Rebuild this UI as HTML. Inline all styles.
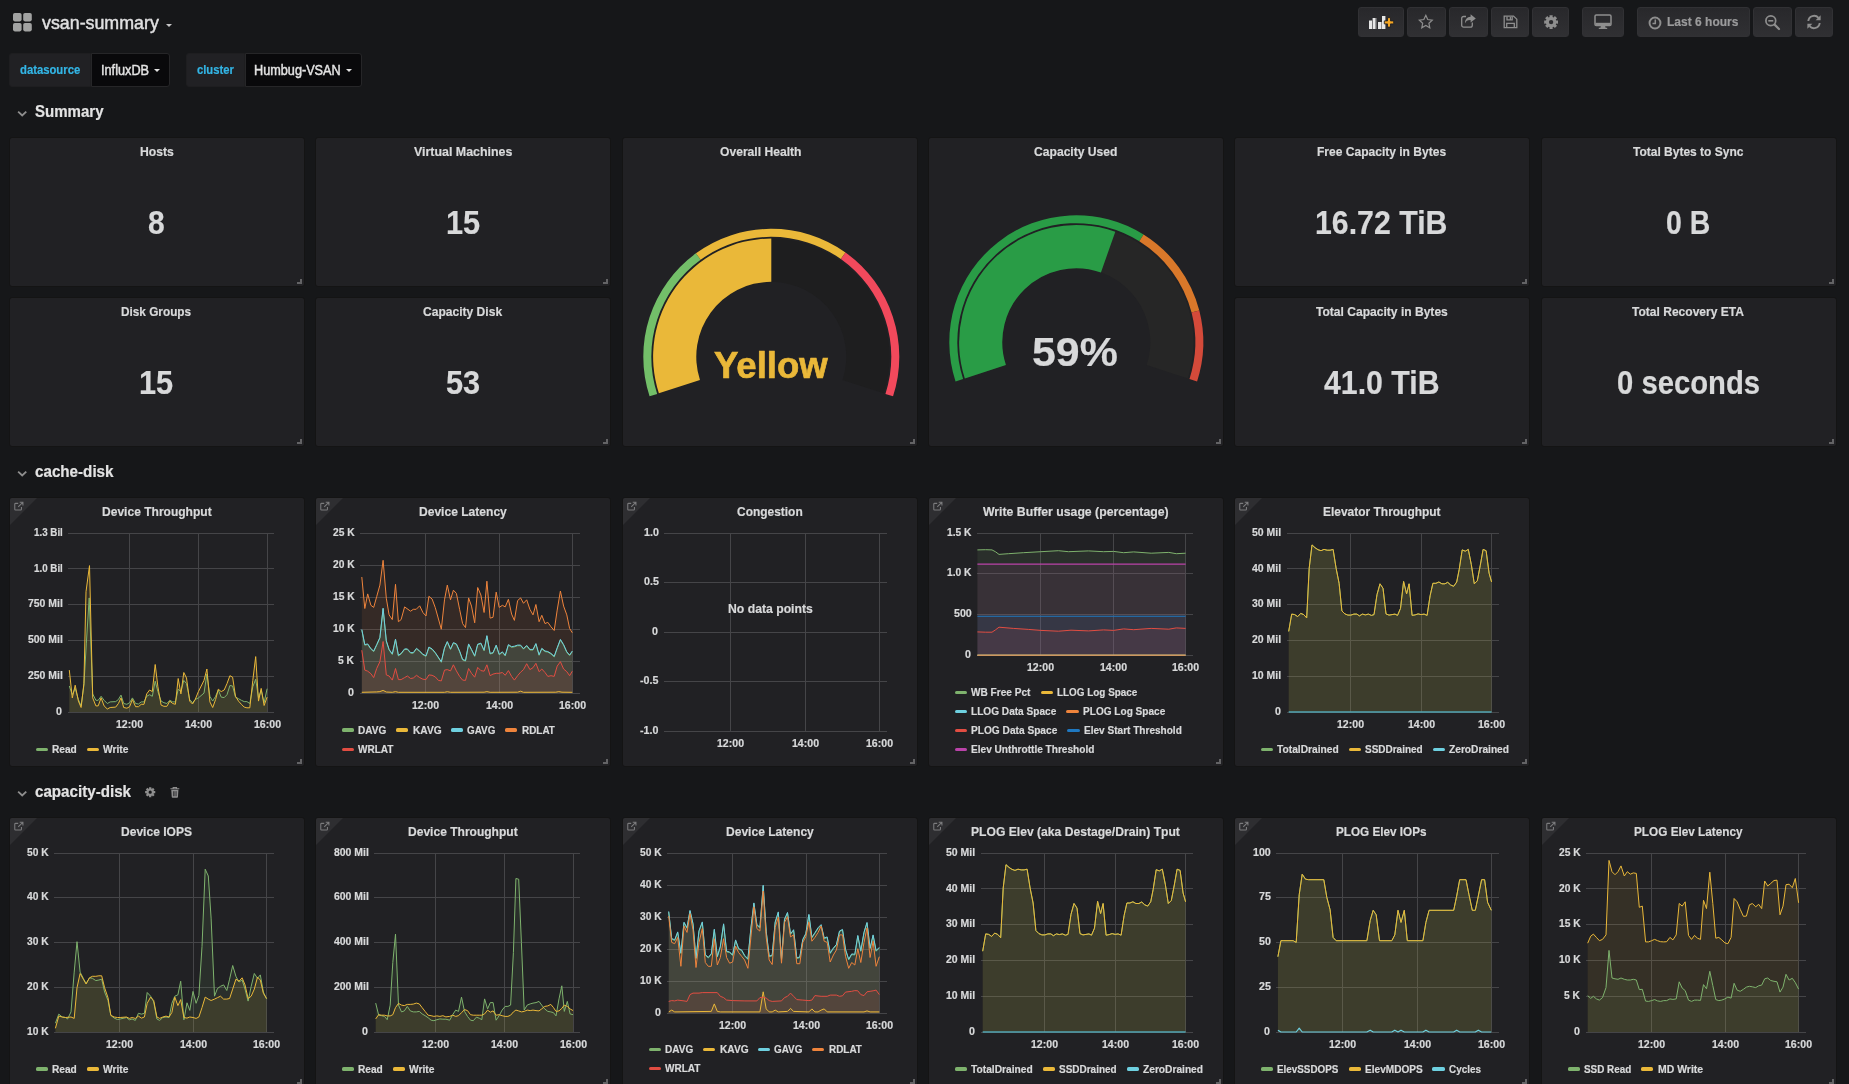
<!DOCTYPE html>
<html><head><meta charset="utf-8"><title>vsan-summary</title><style>
html,body{margin:0;padding:0;width:1849px;height:1084px;overflow:hidden}
body{width:1849px;height:1084px;overflow:hidden;background:#161719;font-family:"Liberation Sans",sans-serif;position:relative}
#w{position:absolute;left:0;top:0;width:1849px;height:1084px;overflow:hidden;will-change:transform}
.t{position:absolute;white-space:nowrap;transform-origin:0 50%;display:block;-webkit-text-stroke:0.2px}
.a{position:absolute;overflow:visible}
.p{position:absolute;box-sizing:border-box;background:#212124;border:1px solid #141414;border-radius:3px;overflow:hidden}
.rz{position:absolute;right:2px;bottom:2px;width:5px;height:5px;box-sizing:border-box;border-right:2px solid #636365;border-bottom:2px solid #636365}
.cn{position:absolute;left:0;top:0;width:0;height:0;border-top:27px solid #2e2e31;border-right:27px solid transparent}
.ci{position:absolute;left:2.600px;top:2.800px}
.nb{position:absolute;top:7px;height:30px;box-sizing:border-box;border:1px solid #313134;border-radius:3px;background:linear-gradient(#28282b,#303033)}
.caret{position:absolute;width:0;height:0;border-left:3.500px solid transparent;border-right:3.500px solid transparent;border-top:3.800px solid #e3e3e3}
.vl{position:absolute;top:53px;height:34px;box-sizing:border-box;background:#212124;border:1px solid #1e1e20;border-radius:3px 0 0 3px}
.vv{position:absolute;top:53px;height:34px;box-sizing:border-box;background:#09090b;border:1px solid #262628;border-radius:0 3px 3px 0}
.k{-webkit-text-stroke:0.45px}
.g{-webkit-text-stroke:0.7px}
.lm{position:absolute;width:12.200px;height:3.200px;border-radius:1.600px}
</style></head><body><div id="w">
<svg class="a" style="left:13px;top:13px" width="19" height="19" viewBox="0 0 19 19"><g fill="#a2a3a2"><rect x="0" y="0" width="8.6" height="8.4" rx="1.8"/><rect x="10.2" y="0" width="8.6" height="8.4" rx="1.8"/><rect x="0" y="10" width="8.6" height="8.4" rx="1.8"/><rect x="10.2" y="10" width="8.6" height="8.4" rx="1.8"/></g></svg>
<span class="t k" style="left:42.20px;top:11.11px;font-size:18px;line-height:25px;color:#e0e0e1;transform:scaleX(0.9896);">vsan-summary</span>
<i class="caret" style="left:166px;top:24px;border-top-color:#c8c8c9"></i>
<div class="nb" style="left:1358px;width:46px"></div>
<div class="nb" style="left:1407px;width:39px"></div>
<div class="nb" style="left:1449px;width:39px"></div>
<div class="nb" style="left:1491px;width:38px"></div>
<div class="nb" style="left:1532px;width:37px"></div>
<div class="nb" style="left:1582px;width:42px"></div>
<div class="nb" style="left:1637px;width:113px"></div>
<div class="nb" style="left:1753px;width:39px"></div>
<div class="nb" style="left:1795px;width:38px"></div>
<svg class="a" style="left:1368px;top:14px" width="28" height="17" viewBox="0 0 28 17"><g fill="#e6e6e6"><rect x="1" y="6.5" width="3" height="8.5"/><rect x="4.6" y="4" width="3" height="11"/><rect x="10" y="8" width="3" height="7"/><rect x="14" y="2" width="3.4" height="13"/></g><g fill="#9a9a9a"><rect x="7.6" y="4" width="0.9" height="11"/><rect x="13" y="8" width="0.9" height="7"/></g><path d="M19.5 3.700h3v3.200h3.200v3h-3.200v3.200h-3v-3.200h-3.200v-3h3.200z" fill="#f5a623" stroke="#212124" stroke-width="0.9"/></svg>
<svg class="a" style="left:1418.3px;top:14.0px" width="15.6" height="15.6" viewBox="0 0 16 16"><path d="M8 1.4l2 4.3 4.6.6-3.4 3.2.9 4.6L8 11.8l-4.1 2.3.9-4.6L1.4 6.3 6 5.7z" fill="none" stroke="#8e8e8e" stroke-width="1.25" stroke-linejoin="miter"/></svg>
<svg class="a" style="left:1460px;top:13px" width="17" height="16" viewBox="0 0 17 16"><path d="M12.3 9.6v2.6a1.9 1.9 0 0 1-1.9 1.9H3.6a1.9 1.9 0 0 1-1.9-1.9V5.4a1.9 1.9 0 0 1 1.9-1.9H6" fill="none" stroke="#8e8e8e" stroke-width="1.3"/><path d="M10.6 1.2 15.8 5.4 10.6 9.6V7.1C7.6 7 5.9 8 5 10.6 4.9 6.400 6.900 3.900 10.600 3.700z" fill="#8e8e8e"/></svg>
<svg class="a" style="left:1502.7px;top:15.4px" width="15" height="13.8" viewBox="0 0 15 15" preserveAspectRatio="none"><path d="M1.2 1.2h9.300l3.300 3.300v9.300H1.200z" fill="none" stroke="#8e8e8e" stroke-width="1.3"/><path d="M4 1.500v3.800h5.200V1.500M7.400 2.300v2.200M3.700 13.600V9.200h7.600v4.400" fill="none" stroke="#8e8e8e" stroke-width="1.3"/></svg>
<svg class="a" style="left:1542.50px;top:14.10px" width="16.20" height="16.20" viewBox="0 0 16.20 16.20"><path d="M6.61 2.99L6.50 1.18L9.70 1.18L9.59 2.99L10.67 3.43L11.86 2.08L14.12 4.34L12.77 5.53L13.21 6.61L15.02 6.50L15.02 9.70L13.21 9.59L12.77 10.67L14.12 11.86L11.86 14.12L10.67 12.77L9.59 13.21L9.70 15.02L6.50 15.02L6.61 13.21L5.53 12.77L4.34 14.12L2.08 11.86L3.43 10.67L2.99 9.59L1.18 9.70L1.18 6.50L2.99 6.61L3.43 5.53L2.08 4.34L4.34 2.08L5.53 3.43zM5.90 8.10a2.20 2.20 0 1 0 4.40 0a2.20 2.20 0 1 0 -4.40 0z" fill="#8e8e8e" fill-rule="evenodd"/></svg>
<svg class="a" style="left:1594px;top:14px" width="18" height="16" viewBox="0 0 18 16"><rect x="1" y="1" width="16" height="10.600" rx="1.3" fill="none" stroke="#8e8e8e" stroke-width="1.500"/><rect x="1.400" y="8.800" width="15.200" height="2.600" fill="#8e8e8e"/><path d="M7 11.600h4l.6 2.200h1.600v1.300H4.800v-1.300h1.600z" fill="#8e8e8e"/></svg>
<svg class="a" style="left:1648.2px;top:15.6px" width="14" height="14" viewBox="0 0 14 14"><circle cx="7" cy="7" r="5.450" fill="none" stroke="#8e8e8e" stroke-width="1.950"/><path d="M7.300 3.500v4H4.500" fill="none" stroke="#8e8e8e" stroke-width="1.500"/></svg>
<span class="t " style="left:1666.60px;top:12.95px;font-size:13px;line-height:18px;color:#9b9b9c;font-weight:bold;transform:scaleX(0.9237);">Last 6 hours</span>
<svg class="a" style="left:1764px;top:14px" width="17" height="17" viewBox="0 0 17 17"><circle cx="6.800" cy="6.800" r="4.900" fill="none" stroke="#8e8e8e" stroke-width="1.700"/><path d="M10.600 10.600 15 15" stroke="#8e8e8e" stroke-width="2.200" stroke-linecap="round"/><path d="M4.300 6.800h5" stroke="#8e8e8e" stroke-width="1.600"/></svg>
<svg class="a" style="left:1806px;top:14px" width="16" height="16" viewBox="0 0 16 16"><path d="M2.300 7A5.800 5.800 0 0 1 12.500 3.900" fill="none" stroke="#8e8e8e" stroke-width="1.900"/><path d="M14.600 1.300v5h-5z" fill="#8e8e8e"/><path d="M13.700 9A5.800 5.800 0 0 1 3.500 12.100" fill="none" stroke="#8e8e8e" stroke-width="1.900"/><path d="M1.400 14.700v-5h5z" fill="#8e8e8e"/></svg>
<div class="vl" style="left:9px;width:82px"></div><div class="vv" style="left:91px;width:79px"></div>
<div class="vl" style="left:186px;width:59px"></div><div class="vv" style="left:245px;width:117px"></div>
<span class="t " style="left:19.90px;top:61.94px;font-size:12px;line-height:17px;color:#33b5e5;font-weight:bold;transform:scaleX(0.9402);">datasource</span>
<span class="t k" style="left:101.30px;top:60.36px;font-size:14px;line-height:20px;color:#e3e3e3;transform:scaleX(0.9091);">InfluxDB</span>
<i class="caret" style="left:154px;top:69px"></i>
<span class="t " style="left:196.90px;top:61.94px;font-size:12px;line-height:17px;color:#33b5e5;font-weight:bold;transform:scaleX(0.9351);">cluster</span>
<span class="t k" style="left:254.40px;top:60.36px;font-size:14px;line-height:20px;color:#e3e3e3;transform:scaleX(0.9059);">Humbug-VSAN</span>
<i class="caret" style="left:346px;top:69px"></i>
<svg class="a" style="left:17px;top:109.6px" width="10.4" height="7.6" viewBox="0 0 11 8"><path d="M1.2 1.6 5.500 5.800 9.800 1.600" fill="none" stroke="#8e8e8e" stroke-width="1.9"/></svg>
<span class="t " style="left:34.80px;top:100.58px;font-size:16px;line-height:22px;color:#e3e3e3;font-weight:bold;transform:scaleX(0.9407);">Summary</span>
<div class="p" style="left:9.00px;top:137px;width:295.50px;height:150px">
<i class="rz"></i></div>
<span class="t " style="left:139.50px;top:142.65px;font-size:13px;line-height:18px;color:#d8d9da;font-weight:bold;transform:scaleX(0.9385);">Hosts</span>
<span class="t " style="left:148.10px;top:199.09px;font-size:33.6px;line-height:47px;color:#d8d9da;font-weight:bold;transform:scaleX(0.8937);">8</span>
<div class="p" style="left:315.40px;top:137px;width:295.50px;height:150px">
<i class="rz"></i></div>
<span class="t " style="left:413.70px;top:142.65px;font-size:13px;line-height:18px;color:#d8d9da;font-weight:bold;transform:scaleX(0.9537);">Virtual Machines</span>
<span class="t " style="left:445.75px;top:199.09px;font-size:33.6px;line-height:47px;color:#d8d9da;font-weight:bold;transform:scaleX(0.9151);">15</span>
<div class="p" style="left:9.00px;top:297px;width:295.50px;height:150px">
<i class="rz"></i></div>
<span class="t " style="left:121.40px;top:302.65px;font-size:13px;line-height:18px;color:#d8d9da;font-weight:bold;transform:scaleX(0.9069);">Disk Groups</span>
<span class="t " style="left:139.35px;top:359.09px;font-size:33.6px;line-height:47px;color:#d8d9da;font-weight:bold;transform:scaleX(0.9151);">15</span>
<div class="p" style="left:315.40px;top:297px;width:295.50px;height:150px">
<i class="rz"></i></div>
<span class="t " style="left:423.30px;top:302.65px;font-size:13px;line-height:18px;color:#d8d9da;font-weight:bold;transform:scaleX(0.9277);">Capacity Disk</span>
<span class="t " style="left:445.75px;top:359.09px;font-size:33.6px;line-height:47px;color:#d8d9da;font-weight:bold;transform:scaleX(0.9151);">53</span>
<div class="p" style="left:1234.20px;top:137px;width:295.50px;height:150px">
<i class="rz"></i></div>
<span class="t " style="left:1317.10px;top:142.65px;font-size:13px;line-height:18px;color:#d8d9da;font-weight:bold;transform:scaleX(0.9258);">Free Capacity in Bytes</span>
<span class="t " style="left:1315.40px;top:199.09px;font-size:33.6px;line-height:47px;color:#d8d9da;font-weight:bold;transform:scaleX(0.9017);">16.72 TiB</span>
<div class="p" style="left:1541.00px;top:137px;width:295.50px;height:150px">
<i class="rz"></i></div>
<span class="t " style="left:1633.25px;top:142.65px;font-size:13px;line-height:18px;color:#d8d9da;font-weight:bold;transform:scaleX(0.9225);">Total Bytes to Sync</span>
<span class="t " style="left:1666.30px;top:199.09px;font-size:33.6px;line-height:47px;color:#d8d9da;font-weight:bold;transform:scaleX(0.8472);">0 B</span>
<div class="p" style="left:1234.20px;top:297px;width:295.50px;height:150px">
<i class="rz"></i></div>
<span class="t " style="left:1315.75px;top:302.65px;font-size:13px;line-height:18px;color:#d8d9da;font-weight:bold;transform:scaleX(0.9277);">Total Capacity in Bytes</span>
<span class="t " style="left:1323.80px;top:359.09px;font-size:33.6px;line-height:47px;color:#d8d9da;font-weight:bold;transform:scaleX(0.9021);">41.0 TiB</span>
<div class="p" style="left:1541.00px;top:297px;width:295.50px;height:150px">
<i class="rz"></i></div>
<span class="t " style="left:1632.45px;top:302.65px;font-size:13px;line-height:18px;color:#d8d9da;font-weight:bold;transform:scaleX(0.9265);">Total Recovery ETA</span>
<span class="t " style="left:1616.85px;top:359.09px;font-size:33.6px;line-height:47px;color:#d8d9da;font-weight:bold;transform:scaleX(0.8713);">0 seconds</span>
<div class="p" style="left:622.00px;top:137px;width:295.50px;height:310px">
<i class="rz"></i></div>
<span class="t " style="left:719.65px;top:142.65px;font-size:13px;line-height:18px;color:#d8d9da;font-weight:bold;transform:scaleX(0.9322);">Overall Health</span>
<div class="p" style="left:928.20px;top:137px;width:295.50px;height:310px">
<i class="rz"></i></div>
<span class="t " style="left:1033.55px;top:142.65px;font-size:13px;line-height:18px;color:#d8d9da;font-weight:bold;transform:scaleX(0.9320);">Capacity Used</span>
<svg class="a" style="left:0;top:0" width="1849" height="460" viewBox="0 0 1849 460">
<path d="M658.89 393.33A118.2 118.2 0 1 1 883.71 393.33L842.63 379.98A75 75 0 1 0 699.97 379.98z" fill="#1e1e1f"/><path d="M658.89 393.33A118.2 118.2 0 0 1 771.30 238.60L771.30 281.80A75 75 0 0 0 699.97 379.98z" fill="#eab839"/><path d="M649.56 396.35A128 128 0 0 1 695.93 253.34L700.64 259.81A120 120 0 0 0 657.17 393.88z" fill="#73bf69"/><path d="M695.93 253.34A128 128 0 0 1 845.49 252.49L840.85 259.01A120 120 0 0 0 700.64 259.81z" fill="#eab839"/><path d="M845.49 252.49A128 128 0 0 1 893.04 396.35L885.43 393.88A120 120 0 0 0 840.85 259.01z" fill="#f2495c"/>
<path d="M964.84 378.42A117.2 117.2 0 1 1 1187.76 378.42L1146.68 365.07A74 74 0 1 0 1005.92 365.07z" fill="#262626"/><path d="M964.84 378.42A117.2 117.2 0 0 1 1115.31 231.68L1100.93 272.42A74 74 0 0 0 1005.92 365.07z" fill="#299c46"/><path d="M955.52 381.45A127 127 0 0 1 1143.54 234.46L1139.30 241.25A119 119 0 0 0 963.12 378.97z" fill="#299c46"/><path d="M1143.54 234.46A127 127 0 0 1 1199.31 310.62L1191.56 312.61A119 119 0 0 0 1139.30 241.25z" fill="#d9782a"/><path d="M1199.31 310.62A127 127 0 0 1 1197.08 381.45L1189.48 378.97A119 119 0 0 0 1191.56 312.61z" fill="#d44a3a"/>
</svg>
<span class="t g" style="left:714.40px;top:341.41px;font-size:36px;line-height:50px;color:#eab839;font-weight:bold;transform:scaleX(1.0139);">Yellow</span>
<span class="t " style="left:1031.90px;top:324.17px;font-size:41px;line-height:57px;color:#d8d9da;font-weight:bold;transform:scaleX(1.0456);">59%</span>
<svg class="a" style="left:17px;top:469.6px" width="10.4" height="7.6" viewBox="0 0 11 8"><path d="M1.2 1.6 5.500 5.800 9.800 1.600" fill="none" stroke="#8e8e8e" stroke-width="1.9"/></svg>
<span class="t " style="left:34.80px;top:460.58px;font-size:16px;line-height:22px;color:#e3e3e3;font-weight:bold;transform:scaleX(0.9491);">cache-disk</span>
<svg class="a" style="left:17px;top:789.6px" width="10.4" height="7.6" viewBox="0 0 11 8"><path d="M1.2 1.6 5.500 5.800 9.800 1.600" fill="none" stroke="#8e8e8e" stroke-width="1.9"/></svg>
<span class="t " style="left:34.80px;top:780.58px;font-size:16px;line-height:22px;color:#e3e3e3;font-weight:bold;transform:scaleX(0.9469);">capacity-disk</span>
<svg class="a" style="left:143.60px;top:786.00px" width="12.40" height="12.40" viewBox="0 0 12.40 12.40"><path d="M5.11 2.45L5.03 1.13L7.37 1.13L7.29 2.45L8.08 2.78L8.95 1.79L10.61 3.45L9.62 4.32L9.95 5.11L11.27 5.03L11.27 7.37L9.95 7.29L9.62 8.08L10.61 8.95L8.95 10.61L8.08 9.62L7.29 9.95L7.37 11.27L5.03 11.27L5.11 9.95L4.32 9.62L3.45 10.61L1.79 8.95L2.78 8.08L2.45 7.29L1.13 7.37L1.13 5.03L2.45 5.11L2.78 4.32L1.79 3.45L3.45 1.79L4.32 2.78zM4.59 6.20a1.61 1.61 0 1 0 3.22 0a1.61 1.61 0 1 0 -3.22 0z" fill="#8e8e8e" fill-rule="evenodd"/></svg>
<svg class="a" style="left:169.6px;top:786.9px" width="9.7" height="10.9" viewBox="0 0 10 13" preserveAspectRatio="none"><path d="M3.300 1.600V.6h3.400v1M.4 2.100h9.200" stroke="#8e8e8e" stroke-width="1.200" fill="none"/><path d="M1.300 3.400h7.400l-.5 8.600a.8.800 0 0 1-.8.700H2.600a.8.800 0 0 1-.8-.7z" fill="#8e8e8e"/><path d="M3.600 5v6M5 5v6M6.400 5v6" stroke="#161719" stroke-width=".7"/></svg>
<div class="p" style="left:9.00px;top:497px;width:295.50px;height:270px">
<div class="cn"></div><svg class="ci" viewBox="0 0 14 14" width="11.4" height="11"><path d="M10.5 7.6v2.9a1 1 0 0 1-1 1H3a1 1 0 0 1-1-1V4a1 1 0 0 1 1-1h3.4M8.3 1.6h4.1v4.1M12.2 1.8 6.4 7.6" fill="none" stroke="#7b7b7d" stroke-width="1.35"/></svg>
<i class="rz"></i></div>
<span class="t " style="left:101.60px;top:502.65px;font-size:13px;line-height:18px;color:#d8d9da;font-weight:bold;transform:scaleX(0.9261);">Device Throughput</span>
<svg class="a" style="left:0;top:0" width="1849" height="1084" viewBox="0 0 1849 1084"><path d="M68 533.5H274M68 568.5H274M68 604.5H274M68 640.5H274M68 676.5H274M68 712.5H274M129.5 533V713M198.5 533V713M267.5 533V713" stroke="#454548" stroke-width="1" fill="none" shape-rendering="crispEdges"/><polygon points="69.3,686.0 72.3,694.7 75.2,688.4 78.4,699.5 81.1,705.9 83.9,685.2 86.3,643.9 89.2,597.9 92.7,693.9 95.9,700.3 98.2,700.3 101.1,696.3 104.1,700.3 107.3,703.5 110.2,701.9 115.7,701.6 118.4,699.5 121.0,695.1 123.7,703.5 126.9,704.3 129.6,702.7 132.4,697.9 135.6,703.5 138.5,704.0 141.2,701.9 144.0,701.9 146.7,696.3 149.6,694.7 152.3,696.3 155.2,681.2 157.9,691.6 161.1,701.1 163.9,702.7 166.9,703.5 169.8,700.3 172.7,701.9 175.4,701.9 178.2,689.2 180.9,691.6 183.8,680.4 186.5,683.6 189.7,699.5 192.5,702.7 195.2,699.5 198.4,697.9 204.0,693.1 206.9,674.1 209.9,696.3 212.7,701.1 215.6,696.3 218.3,690.0 221.2,697.1 224.2,697.6 227.0,694.7 229.9,685.5 232.6,686.0 235.5,697.1 238.5,698.7 241.4,700.3 244.2,701.6 246.9,701.6 249.8,703.5 252.8,686.8 255.7,679.2 258.5,697.9 261.2,690.0 264.1,702.7 267.1,688.7 267.1,712.0 69.3,712.0" fill="#7eb26d" fill-opacity="0.1"/><polygon points="69.3,670.1 72.3,697.9 75.2,685.2 78.4,701.1 81.1,707.5 83.9,683.6 86.0,591.7 89.5,565.6 92.7,697.9 95.9,705.9 98.2,705.9 101.1,697.9 104.1,705.9 107.3,709.0 110.2,707.5 115.7,707.1 118.4,703.5 121.0,697.9 123.7,707.5 126.9,708.2 129.6,706.7 132.4,699.5 135.6,706.7 138.5,706.7 141.2,704.3 144.0,704.3 146.7,693.9 149.6,690.0 152.3,691.6 155.2,664.5 157.9,686.8 161.1,705.1 163.9,706.3 166.9,706.3 169.8,701.1 172.7,703.5 175.4,704.3 178.2,678.5 180.9,693.9 183.8,672.5 186.5,678.0 189.7,701.1 192.5,704.0 195.2,699.5 198.4,691.6 204.0,680.4 206.9,669.0 209.9,701.9 212.7,707.5 215.6,699.5 218.3,689.2 221.2,691.6 224.2,690.0 227.0,683.6 229.9,675.7 232.6,677.2 235.5,696.3 238.5,701.1 241.4,704.3 244.2,707.1 246.9,707.8 249.8,707.8 252.8,680.4 255.7,656.6 258.5,701.1 261.2,688.4 264.1,705.5 267.1,697.1 267.1,712.0 69.3,712.0" fill="#eab839" fill-opacity="0.1"/><polyline points="69.3,686.0 72.3,694.7 75.2,688.4 78.4,699.5 81.1,705.9 83.9,685.2 86.3,643.9 89.2,597.9 92.7,693.9 95.9,700.3 98.2,700.3 101.1,696.3 104.1,700.3 107.3,703.5 110.2,701.9 115.7,701.6 118.4,699.5 121.0,695.1 123.7,703.5 126.9,704.3 129.6,702.7 132.4,697.9 135.6,703.5 138.5,704.0 141.2,701.9 144.0,701.9 146.7,696.3 149.6,694.7 152.3,696.3 155.2,681.2 157.9,691.6 161.1,701.1 163.9,702.7 166.9,703.5 169.8,700.3 172.7,701.9 175.4,701.9 178.2,689.2 180.9,691.6 183.8,680.4 186.5,683.6 189.7,699.5 192.5,702.7 195.2,699.5 198.4,697.9 204.0,693.1 206.9,674.1 209.9,696.3 212.7,701.1 215.6,696.3 218.3,690.0 221.2,697.1 224.2,697.6 227.0,694.7 229.9,685.5 232.6,686.0 235.5,697.1 238.5,698.7 241.4,700.3 244.2,701.6 246.9,701.6 249.8,703.5 252.8,686.8 255.7,679.2 258.5,697.9 261.2,690.0 264.1,702.7 267.1,688.7" fill="none" stroke="#7eb26d" stroke-width="1.0" stroke-linejoin="round"/><polyline points="69.3,670.1 72.3,697.9 75.2,685.2 78.4,701.1 81.1,707.5 83.9,683.6 86.0,591.7 89.5,565.6 92.7,697.9 95.9,705.9 98.2,705.9 101.1,697.9 104.1,705.9 107.3,709.0 110.2,707.5 115.7,707.1 118.4,703.5 121.0,697.9 123.7,707.5 126.9,708.2 129.6,706.7 132.4,699.5 135.6,706.7 138.5,706.7 141.2,704.3 144.0,704.3 146.7,693.9 149.6,690.0 152.3,691.6 155.2,664.5 157.9,686.8 161.1,705.1 163.9,706.3 166.9,706.3 169.8,701.1 172.7,703.5 175.4,704.3 178.2,678.5 180.9,693.9 183.8,672.5 186.5,678.0 189.7,701.1 192.5,704.0 195.2,699.5 198.4,691.6 204.0,680.4 206.9,669.0 209.9,701.9 212.7,707.5 215.6,699.5 218.3,689.2 221.2,691.6 224.2,690.0 227.0,683.6 229.9,675.7 232.6,677.2 235.5,696.3 238.5,701.1 241.4,704.3 244.2,707.1 246.9,707.8 249.8,707.8 252.8,680.4 255.7,656.6 258.5,701.1 261.2,688.4 264.1,705.5 267.1,697.1" fill="none" stroke="#eab839" stroke-width="1.0" stroke-linejoin="round"/></svg>
<span class="t " style="left:33.56px;top:524.73px;font-size:11px;line-height:15px;color:#d8d9da;font-weight:bold;transform:scaleX(0.8900);">1.3 Bil</span>
<span class="t " style="left:33.56px;top:560.53px;font-size:11px;line-height:15px;color:#d8d9da;font-weight:bold;transform:scaleX(0.8900);">1.0 Bil</span>
<span class="t " style="left:27.55px;top:596.33px;font-size:11px;line-height:15px;color:#d8d9da;font-weight:bold;transform:scaleX(0.9500);">750 Mil</span>
<span class="t " style="left:27.55px;top:632.13px;font-size:11px;line-height:15px;color:#d8d9da;font-weight:bold;transform:scaleX(0.9500);">500 Mil</span>
<span class="t " style="left:27.55px;top:667.93px;font-size:11px;line-height:15px;color:#d8d9da;font-weight:bold;transform:scaleX(0.9500);">250 Mil</span>
<span class="t " style="left:56.47px;top:703.73px;font-size:11px;line-height:15px;color:#d8d9da;font-weight:bold;transform:scaleX(0.9700);">0</span>
<span class="t " style="left:116.10px;top:716.63px;font-size:11px;line-height:15px;color:#d8d9da;font-weight:bold;transform:scaleX(0.9600);">12:00</span>
<span class="t " style="left:185.10px;top:716.63px;font-size:11px;line-height:15px;color:#d8d9da;font-weight:bold;transform:scaleX(0.9600);">14:00</span>
<span class="t " style="left:254.10px;top:716.63px;font-size:11px;line-height:15px;color:#d8d9da;font-weight:bold;transform:scaleX(0.9600);">16:00</span>
<i class="lm" style="left:35.5px;top:747.5px;background:#7eb26d"></i>
<span class="t " style="left:52.00px;top:741.63px;font-size:11px;line-height:15px;color:#d8d9da;font-weight:bold;transform:scaleX(0.9220);">Read</span>
<i class="lm" style="left:86.5px;top:747.5px;background:#eab839"></i>
<span class="t " style="left:103.00px;top:741.63px;font-size:11px;line-height:15px;color:#d8d9da;font-weight:bold;transform:scaleX(0.9340);">Write</span>
<div class="p" style="left:315.40px;top:497px;width:295.50px;height:270px">
<div class="cn"></div><svg class="ci" viewBox="0 0 14 14" width="11.4" height="11"><path d="M10.5 7.6v2.9a1 1 0 0 1-1 1H3a1 1 0 0 1-1-1V4a1 1 0 0 1 1-1h3.4M8.3 1.6h4.1v4.1M12.2 1.8 6.4 7.6" fill="none" stroke="#7b7b7d" stroke-width="1.35"/></svg>
<i class="rz"></i></div>
<span class="t " style="left:418.95px;top:502.65px;font-size:13px;line-height:18px;color:#d8d9da;font-weight:bold;transform:scaleX(0.9275);">Device Latency</span>
<svg class="a" style="left:0;top:0" width="1849" height="1084" viewBox="0 0 1849 1084"><path d="M360 533.5H580M360 565.5H580M360 597.5H580M360 629.5H580M360 661.5H580M360 693.5H580M425.5 533V694M499.5 533V694M572.5 533V694" stroke="#454548" stroke-width="1" fill="none" shape-rendering="crispEdges"/><polygon points="361.8,630.1 364.8,645.2 367.7,644.5 370.9,649.2 373.7,651.6 376.7,645.2 379.9,638.1 383.1,608.8 386.3,641.3 389.1,650.0 392.3,654.5 395.5,639.7 398.4,655.9 401.1,654.0 404.6,649.5 407.4,649.5 410.6,653.2 413.3,653.2 416.5,648.9 419.7,651.6 422.9,654.8 426.0,656.4 428.9,647.6 432.1,649.5 435.3,653.2 441.3,662.3 444.5,648.4 447.3,642.1 450.5,649.5 453.4,643.2 456.4,644.5 459.6,651.6 462.6,660.0 465.5,661.1 468.6,644.5 471.5,650.0 474.7,656.4 477.7,644.8 480.9,643.7 484.1,650.8 486.9,636.2 490.1,654.0 493.0,653.2 496.2,645.7 499.2,654.8 502.4,652.4 505.2,655.9 508.4,645.2 511.6,647.3 514.4,646.8 517.6,645.7 520.6,645.7 523.5,649.2 526.7,646.0 529.9,650.0 533.0,650.0 535.9,644.1 539.1,655.3 541.8,648.9 545.0,651.6 547.8,652.1 551.0,654.0 554.2,656.9 557.2,648.4 560.4,640.0 563.6,645.2 566.8,652.4 569.6,655.6 572.3,651.6 572.3,693.0 361.8,693.0" fill="#7eb26d" fill-opacity="0.1"/><polygon points="361.8,692.3 376.7,691.9 379.9,691.6 383.1,690.4 386.3,692.0 392.3,692.3 395.5,691.6 398.4,692.3 444.5,692.3 447.3,691.7 450.5,692.3 484.1,692.2 486.9,691.6 490.1,692.3 517.6,692.2 520.6,691.2 523.5,692.3 555.8,692.2 558.8,691.6 562.0,692.2 572.3,692.3 572.3,693.0 361.8,693.0" fill="#eab839" fill-opacity="0.1"/><polygon points="361.8,629.5 364.8,644.6 367.7,643.9 370.9,648.6 373.7,651.0 376.7,644.6 379.9,637.5 383.1,608.2 386.3,640.7 389.1,649.4 392.3,653.9 395.5,639.1 398.4,655.3 401.1,653.4 404.6,648.9 407.4,648.9 410.6,652.6 413.3,652.6 416.5,648.3 419.7,651.0 422.9,654.2 426.0,655.8 428.9,647.0 432.1,648.9 435.3,652.6 441.3,661.7 444.5,647.8 447.3,641.5 450.5,648.9 453.4,642.6 456.4,643.9 459.6,651.0 462.6,659.4 465.5,660.5 468.6,643.9 471.5,649.4 474.7,655.8 477.7,644.2 480.9,643.1 484.1,650.2 486.9,635.6 490.1,653.4 493.0,652.6 496.2,645.1 499.2,654.2 502.4,651.8 505.2,655.3 508.4,644.6 511.6,646.7 514.4,646.2 517.6,645.1 520.6,645.1 523.5,648.6 526.7,645.4 529.9,649.4 533.0,649.4 535.9,643.5 539.1,654.7 541.8,648.3 545.0,651.0 547.8,651.5 551.0,653.4 554.2,656.3 557.2,647.8 560.4,639.4 563.6,644.6 566.8,651.8 569.6,655.0 572.3,651.0 572.3,693.0 361.8,693.0" fill="#6ed0e0" fill-opacity="0.1"/><polygon points="361.8,577.0 364.8,608.5 367.7,593.9 370.9,605.3 373.7,607.4 376.7,596.6 379.9,585.1 383.1,560.3 386.3,598.2 389.1,614.9 392.3,619.6 395.5,584.3 398.4,621.7 401.1,619.6 404.6,606.9 410.6,611.2 413.3,609.3 416.2,609.3 419.7,605.8 422.9,612.5 426.0,616.0 428.9,596.3 432.1,599.0 435.3,607.7 441.3,629.2 444.5,599.8 447.3,585.1 450.5,599.8 453.4,590.2 456.4,593.4 459.6,609.3 462.6,623.6 465.5,627.6 468.6,597.9 471.5,606.1 474.7,622.8 477.7,587.5 480.9,595.0 484.1,612.5 486.9,581.2 490.1,618.1 493.0,617.3 496.2,592.1 499.2,607.4 502.4,605.3 505.2,606.9 508.4,599.3 511.6,614.1 514.4,620.4 517.6,600.6 520.6,597.9 523.5,603.3 526.7,599.8 529.9,609.3 533.0,614.9 535.9,604.5 539.1,621.7 541.8,615.3 545.0,623.6 547.8,622.3 551.0,626.8 554.2,630.5 557.2,610.1 560.4,591.0 563.6,606.1 566.8,614.9 569.6,628.4 572.3,632.8 572.3,693.0 361.8,693.0" fill="#ef843c" fill-opacity="0.1"/><polygon points="361.8,650.2 364.8,670.1 367.7,671.2 370.9,673.7 373.7,677.6 376.7,668.5 379.9,661.7 383.1,641.5 386.3,674.9 389.1,676.0 392.3,680.1 395.5,668.5 398.4,679.6 401.1,679.6 404.6,677.6 407.4,676.0 410.6,678.5 413.3,678.0 416.5,675.3 419.7,677.6 422.9,679.2 426.0,679.6 428.9,674.9 432.1,675.3 435.3,676.9 438.4,680.4 441.3,680.9 444.5,670.1 447.3,669.6 450.5,670.9 453.4,664.8 456.4,670.9 459.6,676.4 462.6,680.1 465.5,680.4 468.6,668.5 471.5,673.3 474.7,677.2 477.7,667.4 480.9,670.6 484.1,671.2 486.9,664.8 490.1,675.7 493.0,674.1 496.2,673.3 499.2,673.3 502.4,672.5 505.2,675.3 508.4,670.6 511.6,676.4 514.4,680.1 517.6,675.7 520.6,672.2 523.5,669.6 526.7,663.7 529.9,669.6 533.0,667.7 535.9,663.3 539.1,671.7 541.8,669.0 545.0,672.5 547.8,676.4 551.0,675.7 554.2,676.4 557.2,666.1 560.4,661.7 563.6,669.0 566.8,671.7 569.6,675.7 572.3,671.2 572.3,693.0 361.8,693.0" fill="#e24d42" fill-opacity="0.1"/><polyline points="361.8,630.1 364.8,645.2 367.7,644.5 370.9,649.2 373.7,651.6 376.7,645.2 379.9,638.1 383.1,608.8 386.3,641.3 389.1,650.0 392.3,654.5 395.5,639.7 398.4,655.9 401.1,654.0 404.6,649.5 407.4,649.5 410.6,653.2 413.3,653.2 416.5,648.9 419.7,651.6 422.9,654.8 426.0,656.4 428.9,647.6 432.1,649.5 435.3,653.2 441.3,662.3 444.5,648.4 447.3,642.1 450.5,649.5 453.4,643.2 456.4,644.5 459.6,651.6 462.6,660.0 465.5,661.1 468.6,644.5 471.5,650.0 474.7,656.4 477.7,644.8 480.9,643.7 484.1,650.8 486.9,636.2 490.1,654.0 493.0,653.2 496.2,645.7 499.2,654.8 502.4,652.4 505.2,655.9 508.4,645.2 511.6,647.3 514.4,646.8 517.6,645.7 520.6,645.7 523.5,649.2 526.7,646.0 529.9,650.0 533.0,650.0 535.9,644.1 539.1,655.3 541.8,648.9 545.0,651.6 547.8,652.1 551.0,654.0 554.2,656.9 557.2,648.4 560.4,640.0 563.6,645.2 566.8,652.4 569.6,655.6 572.3,651.6" fill="none" stroke="#7eb26d" stroke-width="1.0" stroke-linejoin="round"/><polyline points="361.8,692.3 376.7,691.9 379.9,691.6 383.1,690.4 386.3,692.0 392.3,692.3 395.5,691.6 398.4,692.3 444.5,692.3 447.3,691.7 450.5,692.3 484.1,692.2 486.9,691.6 490.1,692.3 517.6,692.2 520.6,691.2 523.5,692.3 555.8,692.2 558.8,691.6 562.0,692.2 572.3,692.3" fill="none" stroke="#eab839" stroke-width="1.0" stroke-linejoin="round"/><polyline points="361.8,629.5 364.8,644.6 367.7,643.9 370.9,648.6 373.7,651.0 376.7,644.6 379.9,637.5 383.1,608.2 386.3,640.7 389.1,649.4 392.3,653.9 395.5,639.1 398.4,655.3 401.1,653.4 404.6,648.9 407.4,648.9 410.6,652.6 413.3,652.6 416.5,648.3 419.7,651.0 422.9,654.2 426.0,655.8 428.9,647.0 432.1,648.9 435.3,652.6 441.3,661.7 444.5,647.8 447.3,641.5 450.5,648.9 453.4,642.6 456.4,643.9 459.6,651.0 462.6,659.4 465.5,660.5 468.6,643.9 471.5,649.4 474.7,655.8 477.7,644.2 480.9,643.1 484.1,650.2 486.9,635.6 490.1,653.4 493.0,652.6 496.2,645.1 499.2,654.2 502.4,651.8 505.2,655.3 508.4,644.6 511.6,646.7 514.4,646.2 517.6,645.1 520.6,645.1 523.5,648.6 526.7,645.4 529.9,649.4 533.0,649.4 535.9,643.5 539.1,654.7 541.8,648.3 545.0,651.0 547.8,651.5 551.0,653.4 554.2,656.3 557.2,647.8 560.4,639.4 563.6,644.6 566.8,651.8 569.6,655.0 572.3,651.0" fill="none" stroke="#6ed0e0" stroke-width="1.0" stroke-linejoin="round"/><polyline points="361.8,577.0 364.8,608.5 367.7,593.9 370.9,605.3 373.7,607.4 376.7,596.6 379.9,585.1 383.1,560.3 386.3,598.2 389.1,614.9 392.3,619.6 395.5,584.3 398.4,621.7 401.1,619.6 404.6,606.9 410.6,611.2 413.3,609.3 416.2,609.3 419.7,605.8 422.9,612.5 426.0,616.0 428.9,596.3 432.1,599.0 435.3,607.7 441.3,629.2 444.5,599.8 447.3,585.1 450.5,599.8 453.4,590.2 456.4,593.4 459.6,609.3 462.6,623.6 465.5,627.6 468.6,597.9 471.5,606.1 474.7,622.8 477.7,587.5 480.9,595.0 484.1,612.5 486.9,581.2 490.1,618.1 493.0,617.3 496.2,592.1 499.2,607.4 502.4,605.3 505.2,606.9 508.4,599.3 511.6,614.1 514.4,620.4 517.6,600.6 520.6,597.9 523.5,603.3 526.7,599.8 529.9,609.3 533.0,614.9 535.9,604.5 539.1,621.7 541.8,615.3 545.0,623.6 547.8,622.3 551.0,626.8 554.2,630.5 557.2,610.1 560.4,591.0 563.6,606.1 566.8,614.9 569.6,628.4 572.3,632.8" fill="none" stroke="#ef843c" stroke-width="1.0" stroke-linejoin="round"/><polyline points="361.8,650.2 364.8,670.1 367.7,671.2 370.9,673.7 373.7,677.6 376.7,668.5 379.9,661.7 383.1,641.5 386.3,674.9 389.1,676.0 392.3,680.1 395.5,668.5 398.4,679.6 401.1,679.6 404.6,677.6 407.4,676.0 410.6,678.5 413.3,678.0 416.5,675.3 419.7,677.6 422.9,679.2 426.0,679.6 428.9,674.9 432.1,675.3 435.3,676.9 438.4,680.4 441.3,680.9 444.5,670.1 447.3,669.6 450.5,670.9 453.4,664.8 456.4,670.9 459.6,676.4 462.6,680.1 465.5,680.4 468.6,668.5 471.5,673.3 474.7,677.2 477.7,667.4 480.9,670.6 484.1,671.2 486.9,664.8 490.1,675.7 493.0,674.1 496.2,673.3 499.2,673.3 502.4,672.5 505.2,675.3 508.4,670.6 511.6,676.4 514.4,680.1 517.6,675.7 520.6,672.2 523.5,669.6 526.7,663.7 529.9,669.6 533.0,667.7 535.9,663.3 539.1,671.7 541.8,669.0 545.0,672.5 547.8,676.4 551.0,675.7 554.2,676.4 557.2,666.1 560.4,661.7 563.6,669.0 566.8,671.7 569.6,675.7 572.3,671.2" fill="none" stroke="#e24d42" stroke-width="1.0" stroke-linejoin="round"/></svg>
<span class="t " style="left:332.79px;top:524.73px;font-size:11px;line-height:15px;color:#d8d9da;font-weight:bold;transform:scaleX(0.9300);">25 K</span>
<span class="t " style="left:332.79px;top:556.73px;font-size:11px;line-height:15px;color:#d8d9da;font-weight:bold;transform:scaleX(0.9300);">20 K</span>
<span class="t " style="left:332.79px;top:588.73px;font-size:11px;line-height:15px;color:#d8d9da;font-weight:bold;transform:scaleX(0.9300);">15 K</span>
<span class="t " style="left:332.79px;top:620.73px;font-size:11px;line-height:15px;color:#d8d9da;font-weight:bold;transform:scaleX(0.9300);">10 K</span>
<span class="t " style="left:338.48px;top:652.73px;font-size:11px;line-height:15px;color:#d8d9da;font-weight:bold;transform:scaleX(0.9300);">5 K</span>
<span class="t " style="left:348.47px;top:684.73px;font-size:11px;line-height:15px;color:#d8d9da;font-weight:bold;transform:scaleX(0.9700);">0</span>
<span class="t " style="left:411.90px;top:697.63px;font-size:11px;line-height:15px;color:#d8d9da;font-weight:bold;transform:scaleX(0.9600);">12:00</span>
<span class="t " style="left:486.10px;top:697.63px;font-size:11px;line-height:15px;color:#d8d9da;font-weight:bold;transform:scaleX(0.9600);">14:00</span>
<span class="t " style="left:558.80px;top:697.63px;font-size:11px;line-height:15px;color:#d8d9da;font-weight:bold;transform:scaleX(0.9600);">16:00</span>
<i class="lm" style="left:341.5px;top:728.4px;background:#7eb26d"></i>
<span class="t " style="left:358.00px;top:722.53px;font-size:11px;line-height:15px;color:#d8d9da;font-weight:bold;transform:scaleX(0.9139);">DAVG</span>
<i class="lm" style="left:396.0px;top:728.4px;background:#eab839"></i>
<span class="t " style="left:412.50px;top:722.53px;font-size:11px;line-height:15px;color:#d8d9da;font-weight:bold;transform:scaleX(0.9236);">KAVG</span>
<i class="lm" style="left:450.8px;top:728.4px;background:#6ed0e0"></i>
<span class="t " style="left:467.30px;top:722.53px;font-size:11px;line-height:15px;color:#d8d9da;font-weight:bold;transform:scaleX(0.8962);">GAVG</span>
<i class="lm" style="left:505.3px;top:728.4px;background:#ef843c"></i>
<span class="t " style="left:521.80px;top:722.53px;font-size:11px;line-height:15px;color:#d8d9da;font-weight:bold;transform:scaleX(0.9025);">RDLAT</span>
<i class="lm" style="left:341.5px;top:747.5px;background:#e24d42"></i>
<span class="t " style="left:358.00px;top:741.63px;font-size:11px;line-height:15px;color:#d8d9da;font-weight:bold;transform:scaleX(0.9128);">WRLAT</span>
<div class="p" style="left:622.00px;top:497px;width:295.50px;height:270px">
<div class="cn"></div><svg class="ci" viewBox="0 0 14 14" width="11.4" height="11"><path d="M10.5 7.6v2.9a1 1 0 0 1-1 1H3a1 1 0 0 1-1-1V4a1 1 0 0 1 1-1h3.4M8.3 1.6h4.1v4.1M12.2 1.8 6.4 7.6" fill="none" stroke="#7b7b7d" stroke-width="1.35"/></svg>
<i class="rz"></i></div>
<span class="t " style="left:736.60px;top:502.65px;font-size:13px;line-height:18px;color:#d8d9da;font-weight:bold;transform:scaleX(0.9189);">Congestion</span>
<svg class="a" style="left:0;top:0" width="1849" height="1084" viewBox="0 0 1849 1084"><path d="M664 533.5H887M664 582.5H887M664 632.5H887M664 681.5H887M664 731.5H887M730.5 533V732M805.5 533V732M879.5 533V732" stroke="#454548" stroke-width="1" fill="none" shape-rendering="crispEdges"/></svg>
<span class="t " style="left:643.57px;top:524.73px;font-size:11px;line-height:15px;color:#d8d9da;font-weight:bold;transform:scaleX(0.9700);">1.0</span>
<span class="t " style="left:643.57px;top:574.23px;font-size:11px;line-height:15px;color:#d8d9da;font-weight:bold;transform:scaleX(0.9700);">0.5</span>
<span class="t " style="left:652.47px;top:623.73px;font-size:11px;line-height:15px;color:#d8d9da;font-weight:bold;transform:scaleX(0.9700);">0</span>
<span class="t " style="left:640.01px;top:673.23px;font-size:11px;line-height:15px;color:#d8d9da;font-weight:bold;transform:scaleX(0.9700);">-0.5</span>
<span class="t " style="left:640.01px;top:722.73px;font-size:11px;line-height:15px;color:#d8d9da;font-weight:bold;transform:scaleX(0.9700);">-1.0</span>
<span class="t " style="left:716.90px;top:735.63px;font-size:11px;line-height:15px;color:#d8d9da;font-weight:bold;transform:scaleX(0.9600);">12:00</span>
<span class="t " style="left:791.80px;top:735.63px;font-size:11px;line-height:15px;color:#d8d9da;font-weight:bold;transform:scaleX(0.9600);">14:00</span>
<span class="t " style="left:866.10px;top:735.63px;font-size:11px;line-height:15px;color:#d8d9da;font-weight:bold;transform:scaleX(0.9600);">16:00</span>
<span class="t " style="left:727.60px;top:599.06px;font-size:13.5px;line-height:19px;color:#d8d9da;font-weight:bold;transform:scaleX(0.9045);">No data points</span>
<div class="p" style="left:928.20px;top:497px;width:295.50px;height:270px">
<div class="cn"></div><svg class="ci" viewBox="0 0 14 14" width="11.4" height="11"><path d="M10.5 7.6v2.9a1 1 0 0 1-1 1H3a1 1 0 0 1-1-1V4a1 1 0 0 1 1-1h3.4M8.3 1.6h4.1v4.1M12.2 1.8 6.4 7.6" fill="none" stroke="#7b7b7d" stroke-width="1.35"/></svg>
<i class="rz"></i></div>
<span class="t " style="left:982.85px;top:502.65px;font-size:13px;line-height:18px;color:#d8d9da;font-weight:bold;transform:scaleX(0.9423);">Write Buffer usage (percentage)</span>
<svg class="a" style="left:0;top:0" width="1849" height="1084" viewBox="0 0 1849 1084"><path d="M977 533.5H1193M977 573.5H1193M977 614.5H1193M977 655.5H1193M1040.5 533V656M1113.5 533V656M1185.5 533V656" stroke="#454548" stroke-width="1" fill="none" shape-rendering="crispEdges"/><polygon points="977.4,549.9 985.7,549.7 992.0,549.9 995.7,551.9 999.0,554.4 1008.3,553.7 1023.3,552.7 1040.9,551.7 1058.4,550.7 1068.5,551.7 1088.5,550.9 1103.6,551.7 1113.6,551.4 1123.6,552.7 1133.7,551.9 1151.2,553.2 1168.8,552.4 1176.3,553.7 1185.6,553.2 1185.6,655.0 977.4,655.0" fill="#7eb26d" fill-opacity="0.1"/><polygon points="977.4,631.9 985.7,632.2 992.0,632.2 995.7,629.7 999.0,627.2 1013.3,628.4 1028.3,629.4 1040.9,630.4 1058.4,631.2 1071.0,630.2 1088.5,630.9 1103.6,629.9 1113.6,630.4 1123.6,628.9 1133.7,629.7 1151.2,628.4 1168.8,629.2 1176.3,627.9 1185.6,628.4 1185.6,655.0 977.4,655.0" fill="#e24d42" fill-opacity="0.1"/><polygon points="977.4,616.3 1185.6,616.3 1185.6,655.0 977.4,655.0" fill="#1f78c1" fill-opacity="0.1"/><polygon points="977.4,564.0 1185.6,564.0 1185.6,655.0 977.4,655.0" fill="#ba43a9" fill-opacity="0.1"/><polyline points="977.4,549.9 985.7,549.7 992.0,549.9 995.7,551.9 999.0,554.4 1008.3,553.7 1023.3,552.7 1040.9,551.7 1058.4,550.7 1068.5,551.7 1088.5,550.9 1103.6,551.7 1113.6,551.4 1123.6,552.7 1133.7,551.9 1151.2,553.2 1168.8,552.4 1176.3,553.7 1185.6,553.2" fill="none" stroke="#7eb26d" stroke-width="1.0" stroke-linejoin="round"/><polyline points="977.4,655.2 1185.6,655.2" fill="none" stroke="#eab839" stroke-width="1.0" stroke-linejoin="round"/><polyline points="977.4,655.2 1185.6,655.2" fill="none" stroke="#6ed0e0" stroke-width="1.0" stroke-linejoin="round"/><polyline points="977.4,655.2 1185.6,655.2" fill="none" stroke="#ef843c" stroke-width="1.0" stroke-linejoin="round"/><polyline points="977.4,631.9 985.7,632.2 992.0,632.2 995.7,629.7 999.0,627.2 1013.3,628.4 1028.3,629.4 1040.9,630.4 1058.4,631.2 1071.0,630.2 1088.5,630.9 1103.6,629.9 1113.6,630.4 1123.6,628.9 1133.7,629.7 1151.2,628.4 1168.8,629.2 1176.3,627.9 1185.6,628.4" fill="none" stroke="#e24d42" stroke-width="1.0" stroke-linejoin="round"/><polyline points="977.4,616.3 1185.6,616.3" fill="none" stroke="#1f78c1" stroke-width="1.1" stroke-linejoin="round"/><polyline points="977.4,564.0 1185.6,564.0" fill="none" stroke="#ba43a9" stroke-width="1.25" stroke-linejoin="round"/></svg>
<span class="t " style="left:946.95px;top:524.73px;font-size:11px;line-height:15px;color:#d8d9da;font-weight:bold;transform:scaleX(0.9300);">1.5 K</span>
<span class="t " style="left:946.95px;top:565.39px;font-size:11px;line-height:15px;color:#d8d9da;font-weight:bold;transform:scaleX(0.9300);">1.0 K</span>
<span class="t " style="left:953.60px;top:606.06px;font-size:11px;line-height:15px;color:#d8d9da;font-weight:bold;transform:scaleX(0.9700);">500</span>
<span class="t " style="left:965.47px;top:646.73px;font-size:11px;line-height:15px;color:#d8d9da;font-weight:bold;transform:scaleX(0.9700);">0</span>
<span class="t " style="left:1026.90px;top:659.63px;font-size:11px;line-height:15px;color:#d8d9da;font-weight:bold;transform:scaleX(0.9600);">12:00</span>
<span class="t " style="left:1100.10px;top:659.63px;font-size:11px;line-height:15px;color:#d8d9da;font-weight:bold;transform:scaleX(0.9600);">14:00</span>
<span class="t " style="left:1172.10px;top:659.63px;font-size:11px;line-height:15px;color:#d8d9da;font-weight:bold;transform:scaleX(0.9600);">16:00</span>
<i class="lm" style="left:954.9px;top:691.1px;background:#7eb26d"></i>
<span class="t " style="left:971.40px;top:685.23px;font-size:11px;line-height:15px;color:#d8d9da;font-weight:bold;transform:scaleX(0.9168);">WB Free Pct</span>
<i class="lm" style="left:1040.5px;top:691.1px;background:#eab839"></i>
<span class="t " style="left:1057.00px;top:685.23px;font-size:11px;line-height:15px;color:#d8d9da;font-weight:bold;transform:scaleX(0.8999);">LLOG Log Space</span>
<i class="lm" style="left:954.9px;top:709.9px;background:#6ed0e0"></i>
<span class="t " style="left:971.40px;top:704.03px;font-size:11px;line-height:15px;color:#d8d9da;font-weight:bold;transform:scaleX(0.9180);">LLOG Data Space</span>
<i class="lm" style="left:1066.4px;top:709.9px;background:#ef843c"></i>
<span class="t " style="left:1082.90px;top:704.03px;font-size:11px;line-height:15px;color:#d8d9da;font-weight:bold;transform:scaleX(0.9160);">PLOG Log Space</span>
<i class="lm" style="left:954.9px;top:728.7px;background:#e24d42"></i>
<span class="t " style="left:971.40px;top:722.83px;font-size:11px;line-height:15px;color:#d8d9da;font-weight:bold;transform:scaleX(0.9227);">PLOG Data Space</span>
<i class="lm" style="left:1067.4px;top:728.7px;background:#1f78c1"></i>
<span class="t " style="left:1083.90px;top:722.83px;font-size:11px;line-height:15px;color:#d8d9da;font-weight:bold;transform:scaleX(0.9142);">Elev Start Threshold</span>
<i class="lm" style="left:954.9px;top:747.5px;background:#ba43a9"></i>
<span class="t " style="left:971.40px;top:741.63px;font-size:11px;line-height:15px;color:#d8d9da;font-weight:bold;transform:scaleX(0.9178);">Elev Unthrottle Threshold</span>
<div class="p" style="left:1234.20px;top:497px;width:295.50px;height:270px">
<div class="cn"></div><svg class="ci" viewBox="0 0 14 14" width="11.4" height="11"><path d="M10.5 7.6v2.9a1 1 0 0 1-1 1H3a1 1 0 0 1-1-1V4a1 1 0 0 1 1-1h3.4M8.3 1.6h4.1v4.1M12.2 1.8 6.4 7.6" fill="none" stroke="#7b7b7d" stroke-width="1.35"/></svg>
<i class="rz"></i></div>
<span class="t " style="left:1322.85px;top:502.65px;font-size:13px;line-height:18px;color:#d8d9da;font-weight:bold;transform:scaleX(0.9200);">Elevator Throughput</span>
<svg class="a" style="left:0;top:0" width="1849" height="1084" viewBox="0 0 1849 1084"><path d="M1287 533.5H1499M1287 568.5H1499M1287 604.5H1499M1287 640.5H1499M1287 676.5H1499M1287 712.5H1499M1350.5 533V713M1421.5 533V713M1491.5 533V713" stroke="#454548" stroke-width="1" fill="none" shape-rendering="crispEdges"/><polygon points="1288.7,631.4 1291.7,614.1 1294.7,614.6 1297.7,616.6 1300.7,613.4 1303.7,614.6 1306.7,617.9 1309.2,568.2 1312.0,544.9 1315.0,547.7 1318.0,549.7 1321.0,550.7 1324.0,549.4 1327.1,550.2 1330.1,550.2 1333.1,549.4 1336.1,568.2 1339.1,583.3 1341.9,610.9 1344.9,613.9 1347.9,615.1 1350.9,615.1 1353.9,614.1 1356.9,614.1 1359.4,615.9 1362.4,614.1 1365.4,614.9 1368.4,614.1 1371.4,615.4 1374.0,614.6 1377.0,594.6 1380.0,583.8 1383.0,588.3 1386.0,613.9 1389.0,615.1 1392.0,614.6 1395.0,614.1 1397.5,615.4 1400.5,608.4 1403.6,581.5 1406.6,593.8 1409.1,583.8 1412.1,615.4 1415.1,614.9 1418.1,613.9 1421.1,614.6 1424.1,614.1 1427.1,615.4 1430.1,595.8 1432.9,583.3 1435.9,583.3 1438.9,582.0 1441.9,583.8 1444.9,583.8 1447.7,582.3 1450.7,585.0 1453.7,586.3 1456.7,582.0 1459.2,569.5 1462.2,549.9 1465.3,551.2 1468.3,549.4 1471.3,564.5 1474.3,583.8 1477.3,580.8 1480.3,565.2 1483.1,549.4 1486.1,550.7 1489.1,573.2 1491.6,582.0 1491.6,712.0 1288.7,712.0" fill="#7eb26d" fill-opacity="0.1"/><polygon points="1288.7,631.4 1291.7,614.1 1294.7,614.6 1297.7,616.6 1300.7,613.4 1303.7,614.6 1306.7,617.9 1309.2,568.2 1312.0,544.9 1315.0,547.7 1318.0,549.7 1321.0,550.7 1324.0,549.4 1327.1,550.2 1330.1,550.2 1333.1,549.4 1336.1,568.2 1339.1,583.3 1341.9,610.9 1344.9,613.9 1347.9,615.1 1350.9,615.1 1353.9,614.1 1356.9,614.1 1359.4,615.9 1362.4,614.1 1365.4,614.9 1368.4,614.1 1371.4,615.4 1374.0,614.6 1377.0,594.6 1380.0,583.8 1383.0,588.3 1386.0,613.9 1389.0,615.1 1392.0,614.6 1395.0,614.1 1397.5,615.4 1400.5,608.4 1403.6,581.5 1406.6,593.8 1409.1,583.8 1412.1,615.4 1415.1,614.9 1418.1,613.9 1421.1,614.6 1424.1,614.1 1427.1,615.4 1430.1,595.8 1432.9,583.3 1435.9,583.3 1438.9,582.0 1441.9,583.8 1444.9,583.8 1447.7,582.3 1450.7,585.0 1453.7,586.3 1456.7,582.0 1459.2,569.5 1462.2,549.9 1465.3,551.2 1468.3,549.4 1471.3,564.5 1474.3,583.8 1477.3,580.8 1480.3,565.2 1483.1,549.4 1486.1,550.7 1489.1,573.2 1491.6,582.0 1491.6,712.0 1288.7,712.0" fill="#eab839" fill-opacity="0.1"/><polyline points="1288.7,631.4 1291.7,614.1 1294.7,614.6 1297.7,616.6 1300.7,613.4 1303.7,614.6 1306.7,617.9 1309.2,568.2 1312.0,544.9 1315.0,547.7 1318.0,549.7 1321.0,550.7 1324.0,549.4 1327.1,550.2 1330.1,550.2 1333.1,549.4 1336.1,568.2 1339.1,583.3 1341.9,610.9 1344.9,613.9 1347.9,615.1 1350.9,615.1 1353.9,614.1 1356.9,614.1 1359.4,615.9 1362.4,614.1 1365.4,614.9 1368.4,614.1 1371.4,615.4 1374.0,614.6 1377.0,594.6 1380.0,583.8 1383.0,588.3 1386.0,613.9 1389.0,615.1 1392.0,614.6 1395.0,614.1 1397.5,615.4 1400.5,608.4 1403.6,581.5 1406.6,593.8 1409.1,583.8 1412.1,615.4 1415.1,614.9 1418.1,613.9 1421.1,614.6 1424.1,614.1 1427.1,615.4 1430.1,595.8 1432.9,583.3 1435.9,583.3 1438.9,582.0 1441.9,583.8 1444.9,583.8 1447.7,582.3 1450.7,585.0 1453.7,586.3 1456.7,582.0 1459.2,569.5 1462.2,549.9 1465.3,551.2 1468.3,549.4 1471.3,564.5 1474.3,583.8 1477.3,580.8 1480.3,565.2 1483.1,549.4 1486.1,550.7 1489.1,573.2 1491.6,582.0" fill="none" stroke="#7eb26d" stroke-width="1.0" stroke-linejoin="round"/><polyline points="1288.7,631.4 1291.7,614.1 1294.7,614.6 1297.7,616.6 1300.7,613.4 1303.7,614.6 1306.7,617.9 1309.2,568.2 1312.0,544.9 1315.0,547.7 1318.0,549.7 1321.0,550.7 1324.0,549.4 1327.1,550.2 1330.1,550.2 1333.1,549.4 1336.1,568.2 1339.1,583.3 1341.9,610.9 1344.9,613.9 1347.9,615.1 1350.9,615.1 1353.9,614.1 1356.9,614.1 1359.4,615.9 1362.4,614.1 1365.4,614.9 1368.4,614.1 1371.4,615.4 1374.0,614.6 1377.0,594.6 1380.0,583.8 1383.0,588.3 1386.0,613.9 1389.0,615.1 1392.0,614.6 1395.0,614.1 1397.5,615.4 1400.5,608.4 1403.6,581.5 1406.6,593.8 1409.1,583.8 1412.1,615.4 1415.1,614.9 1418.1,613.9 1421.1,614.6 1424.1,614.1 1427.1,615.4 1430.1,595.8 1432.9,583.3 1435.9,583.3 1438.9,582.0 1441.9,583.8 1444.9,583.8 1447.7,582.3 1450.7,585.0 1453.7,586.3 1456.7,582.0 1459.2,569.5 1462.2,549.9 1465.3,551.2 1468.3,549.4 1471.3,564.5 1474.3,583.8 1477.3,580.8 1480.3,565.2 1483.1,549.4 1486.1,550.7 1489.1,573.2 1491.6,582.0" fill="none" stroke="#eab839" stroke-width="1.0" stroke-linejoin="round"/><polyline points="1288.7,712.0 1491.6,712.0" fill="none" stroke="#52a5b2" stroke-width="1.7" stroke-linejoin="round"/></svg>
<span class="t " style="left:1252.36px;top:524.73px;font-size:11px;line-height:15px;color:#d8d9da;font-weight:bold;transform:scaleX(0.9500);">50 Mil</span>
<span class="t " style="left:1252.36px;top:560.53px;font-size:11px;line-height:15px;color:#d8d9da;font-weight:bold;transform:scaleX(0.9500);">40 Mil</span>
<span class="t " style="left:1252.36px;top:596.33px;font-size:11px;line-height:15px;color:#d8d9da;font-weight:bold;transform:scaleX(0.9500);">30 Mil</span>
<span class="t " style="left:1252.36px;top:632.13px;font-size:11px;line-height:15px;color:#d8d9da;font-weight:bold;transform:scaleX(0.9500);">20 Mil</span>
<span class="t " style="left:1252.36px;top:667.93px;font-size:11px;line-height:15px;color:#d8d9da;font-weight:bold;transform:scaleX(0.9500);">10 Mil</span>
<span class="t " style="left:1275.47px;top:703.73px;font-size:11px;line-height:15px;color:#d8d9da;font-weight:bold;transform:scaleX(0.9700);">0</span>
<span class="t " style="left:1337.10px;top:716.63px;font-size:11px;line-height:15px;color:#d8d9da;font-weight:bold;transform:scaleX(0.9600);">12:00</span>
<span class="t " style="left:1408.10px;top:716.63px;font-size:11px;line-height:15px;color:#d8d9da;font-weight:bold;transform:scaleX(0.9600);">14:00</span>
<span class="t " style="left:1478.10px;top:716.63px;font-size:11px;line-height:15px;color:#d8d9da;font-weight:bold;transform:scaleX(0.9600);">16:00</span>
<i class="lm" style="left:1260.9px;top:747.5px;background:#7eb26d"></i>
<span class="t " style="left:1277.40px;top:741.63px;font-size:11px;line-height:15px;color:#d8d9da;font-weight:bold;transform:scaleX(0.9290);">TotalDrained</span>
<i class="lm" style="left:1348.8px;top:747.5px;background:#eab839"></i>
<span class="t " style="left:1365.30px;top:741.63px;font-size:11px;line-height:15px;color:#d8d9da;font-weight:bold;transform:scaleX(0.9076);">SSDDrained</span>
<i class="lm" style="left:1432.7px;top:747.5px;background:#6ed0e0"></i>
<span class="t " style="left:1449.20px;top:741.63px;font-size:11px;line-height:15px;color:#d8d9da;font-weight:bold;transform:scaleX(0.9260);">ZeroDrained</span>
<div class="p" style="left:9.00px;top:817px;width:295.50px;height:270px">
<div class="cn"></div><svg class="ci" viewBox="0 0 14 14" width="11.4" height="11"><path d="M10.5 7.6v2.9a1 1 0 0 1-1 1H3a1 1 0 0 1-1-1V4a1 1 0 0 1 1-1h3.4M8.3 1.6h4.1v4.1M12.2 1.8 6.4 7.6" fill="none" stroke="#7b7b7d" stroke-width="1.35"/></svg>
<i class="rz"></i></div>
<span class="t " style="left:120.95px;top:822.65px;font-size:13px;line-height:18px;color:#d8d9da;font-weight:bold;transform:scaleX(0.9269);">Device IOPS</span>
<svg class="a" style="left:0;top:0" width="1849" height="1084" viewBox="0 0 1849 1084"><path d="M54 853.5H274M54 897.5H274M54 942.5H274M54 987.5H274M54 1032.5H274M119.5 853V1033M193.5 853V1033M266.5 853V1033" stroke="#454548" stroke-width="1" fill="none" shape-rendering="crispEdges"/><polygon points="55.4,1023.2 58.8,1014.1 62.2,1017.0 65.6,1017.5 67.6,1019.0 71.0,1011.9 74.2,972.1 77.0,941.7 80.1,972.1 83.3,978.3 86.1,983.4 89.5,977.8 92.4,978.3 95.8,980.6 98.9,980.0 101.7,979.2 104.6,992.0 108.0,1000.5 110.8,1015.3 114.2,1018.1 117.4,1019.5 120.2,1019.0 126.5,1017.5 129.3,1019.8 132.1,1019.0 135.3,1020.4 138.4,1013.3 141.5,1014.1 144.4,1013.3 147.2,992.5 150.6,996.2 153.7,1001.9 156.9,1019.0 159.7,1020.4 162.8,1017.5 166.0,1017.0 169.1,1017.5 171.9,1003.3 174.8,996.2 177.9,994.8 180.7,981.2 183.9,1019.8 187.0,1002.8 189.8,1010.4 193.0,991.4 196.1,1003.3 198.9,995.4 202.0,946.5 205.2,869.2 208.3,876.0 211.1,918.1 214.5,996.2 217.4,988.6 220.5,986.3 223.6,984.9 226.8,990.5 229.6,979.2 232.7,965.5 235.9,976.3 239.0,982.0 242.1,980.0 245.0,989.1 248.1,1001.1 251.2,986.3 254.3,973.5 257.5,978.3 260.3,974.9 263.4,992.0 266.6,999.1 266.6,1032.0 55.4,1032.0" fill="#7eb26d" fill-opacity="0.1"/><polygon points="55.4,1028.3 58.8,1016.1 62.2,1017.0 65.6,1017.5 71.0,1017.0 74.2,1018.4 77.0,987.7 80.1,973.5 83.3,979.2 86.1,984.0 89.5,977.8 92.4,976.3 95.8,976.3 98.9,975.8 101.7,975.8 104.6,987.7 108.0,997.7 110.8,1015.3 114.2,1017.0 117.4,1017.5 120.2,1017.5 126.5,1017.0 129.3,1018.4 132.1,1017.5 135.3,1018.4 138.4,1016.1 141.5,1018.1 144.4,1017.0 147.2,1003.3 150.6,997.1 153.7,1000.5 156.9,1017.0 159.7,1018.4 162.8,1017.0 166.0,1016.1 169.1,1017.0 171.9,1012.4 174.8,997.1 177.9,1005.6 180.7,999.6 183.9,1017.5 187.0,1018.1 189.8,1017.0 193.0,1017.5 196.1,1018.4 198.9,1017.0 202.0,1007.6 205.2,997.1 208.3,999.1 211.1,1000.5 214.5,999.1 217.4,997.7 220.5,996.2 223.6,999.1 226.8,999.1 229.6,998.5 232.7,989.1 235.9,979.2 239.0,981.2 242.1,977.8 245.0,984.9 248.1,998.5 251.2,996.2 254.3,989.1 257.5,977.2 260.3,980.0 263.4,993.4 266.6,998.5 266.6,1032.0 55.4,1032.0" fill="#eab839" fill-opacity="0.1"/><polyline points="55.4,1023.2 58.8,1014.1 62.2,1017.0 65.6,1017.5 67.6,1019.0 71.0,1011.9 74.2,972.1 77.0,941.7 80.1,972.1 83.3,978.3 86.1,983.4 89.5,977.8 92.4,978.3 95.8,980.6 98.9,980.0 101.7,979.2 104.6,992.0 108.0,1000.5 110.8,1015.3 114.2,1018.1 117.4,1019.5 120.2,1019.0 126.5,1017.5 129.3,1019.8 132.1,1019.0 135.3,1020.4 138.4,1013.3 141.5,1014.1 144.4,1013.3 147.2,992.5 150.6,996.2 153.7,1001.9 156.9,1019.0 159.7,1020.4 162.8,1017.5 166.0,1017.0 169.1,1017.5 171.9,1003.3 174.8,996.2 177.9,994.8 180.7,981.2 183.9,1019.8 187.0,1002.8 189.8,1010.4 193.0,991.4 196.1,1003.3 198.9,995.4 202.0,946.5 205.2,869.2 208.3,876.0 211.1,918.1 214.5,996.2 217.4,988.6 220.5,986.3 223.6,984.9 226.8,990.5 229.6,979.2 232.7,965.5 235.9,976.3 239.0,982.0 242.1,980.0 245.0,989.1 248.1,1001.1 251.2,986.3 254.3,973.5 257.5,978.3 260.3,974.9 263.4,992.0 266.6,999.1" fill="none" stroke="#7eb26d" stroke-width="1.0" stroke-linejoin="round"/><polyline points="55.4,1028.3 58.8,1016.1 62.2,1017.0 65.6,1017.5 71.0,1017.0 74.2,1018.4 77.0,987.7 80.1,973.5 83.3,979.2 86.1,984.0 89.5,977.8 92.4,976.3 95.8,976.3 98.9,975.8 101.7,975.8 104.6,987.7 108.0,997.7 110.8,1015.3 114.2,1017.0 117.4,1017.5 120.2,1017.5 126.5,1017.0 129.3,1018.4 132.1,1017.5 135.3,1018.4 138.4,1016.1 141.5,1018.1 144.4,1017.0 147.2,1003.3 150.6,997.1 153.7,1000.5 156.9,1017.0 159.7,1018.4 162.8,1017.0 166.0,1016.1 169.1,1017.0 171.9,1012.4 174.8,997.1 177.9,1005.6 180.7,999.6 183.9,1017.5 187.0,1018.1 189.8,1017.0 193.0,1017.5 196.1,1018.4 198.9,1017.0 202.0,1007.6 205.2,997.1 208.3,999.1 211.1,1000.5 214.5,999.1 217.4,997.7 220.5,996.2 223.6,999.1 226.8,999.1 229.6,998.5 232.7,989.1 235.9,979.2 239.0,981.2 242.1,977.8 245.0,984.9 248.1,998.5 251.2,996.2 254.3,989.1 257.5,977.2 260.3,980.0 263.4,993.4 266.6,998.5" fill="none" stroke="#eab839" stroke-width="1.0" stroke-linejoin="round"/></svg>
<span class="t " style="left:26.79px;top:844.73px;font-size:11px;line-height:15px;color:#d8d9da;font-weight:bold;transform:scaleX(0.9300);">50 K</span>
<span class="t " style="left:26.79px;top:889.48px;font-size:11px;line-height:15px;color:#d8d9da;font-weight:bold;transform:scaleX(0.9300);">40 K</span>
<span class="t " style="left:26.79px;top:934.23px;font-size:11px;line-height:15px;color:#d8d9da;font-weight:bold;transform:scaleX(0.9300);">30 K</span>
<span class="t " style="left:26.79px;top:978.98px;font-size:11px;line-height:15px;color:#d8d9da;font-weight:bold;transform:scaleX(0.9300);">20 K</span>
<span class="t " style="left:26.79px;top:1023.73px;font-size:11px;line-height:15px;color:#d8d9da;font-weight:bold;transform:scaleX(0.9300);">10 K</span>
<span class="t " style="left:105.90px;top:1036.63px;font-size:11px;line-height:15px;color:#d8d9da;font-weight:bold;transform:scaleX(0.9600);">12:00</span>
<span class="t " style="left:180.00px;top:1036.63px;font-size:11px;line-height:15px;color:#d8d9da;font-weight:bold;transform:scaleX(0.9600);">14:00</span>
<span class="t " style="left:253.10px;top:1036.63px;font-size:11px;line-height:15px;color:#d8d9da;font-weight:bold;transform:scaleX(0.9600);">16:00</span>
<i class="lm" style="left:35.5px;top:1067.4px;background:#7eb26d"></i>
<span class="t " style="left:52.00px;top:1061.53px;font-size:11px;line-height:15px;color:#d8d9da;font-weight:bold;transform:scaleX(0.9220);">Read</span>
<i class="lm" style="left:86.5px;top:1067.4px;background:#eab839"></i>
<span class="t " style="left:103.00px;top:1061.53px;font-size:11px;line-height:15px;color:#d8d9da;font-weight:bold;transform:scaleX(0.9340);">Write</span>
<div class="p" style="left:315.40px;top:817px;width:295.50px;height:270px">
<div class="cn"></div><svg class="ci" viewBox="0 0 14 14" width="11.4" height="11"><path d="M10.5 7.6v2.9a1 1 0 0 1-1 1H3a1 1 0 0 1-1-1V4a1 1 0 0 1 1-1h3.4M8.3 1.6h4.1v4.1M12.2 1.8 6.4 7.6" fill="none" stroke="#7b7b7d" stroke-width="1.35"/></svg>
<i class="rz"></i></div>
<span class="t " style="left:408.00px;top:822.65px;font-size:13px;line-height:18px;color:#d8d9da;font-weight:bold;transform:scaleX(0.9261);">Device Throughput</span>
<svg class="a" style="left:0;top:0" width="1849" height="1084" viewBox="0 0 1849 1084"><path d="M374 853.5H580M374 897.5H580M374 942.5H580M374 987.5H580M374 1032.5H580M435.5 853V1033M504.5 853V1033M573.5 853V1033" stroke="#454548" stroke-width="1" fill="none" shape-rendering="crispEdges"/><polygon points="375.7,1003.1 378.7,1015.2 381.7,1015.7 384.5,1016.4 387.2,1019.7 390.2,1005.1 392.8,962.5 395.5,934.1 398.5,1005.1 401.5,1011.9 404.3,1010.9 407.3,1006.4 410.3,1010.9 413.3,1011.9 416.3,1011.9 419.3,1011.4 422.1,1013.9 425.1,1015.7 428.1,1017.7 431.1,1020.2 433.9,1020.7 436.9,1019.7 439.9,1018.9 442.9,1019.2 445.9,1019.2 449.7,1020.2 452.7,1014.7 455.7,1010.1 458.5,1011.4 461.5,997.1 464.5,1011.4 467.5,1016.4 470.5,1020.2 473.3,1020.7 476.3,1017.2 479.3,1018.2 481.8,1019.7 484.6,998.9 487.6,1008.9 490.3,1002.6 493.1,1002.6 496.1,1020.2 499.1,1015.7 502.1,1010.1 505.1,1006.4 507.9,1006.4 510.6,1005.1 513.4,952.5 515.9,878.5 518.7,879.2 521.4,942.4 524.2,1010.1 527.2,1005.1 530.2,1003.9 533.0,1003.1 536.0,1002.6 539.0,1001.4 541.7,1005.1 544.7,1008.9 547.8,1011.4 550.8,1011.9 553.5,1012.7 556.0,1015.9 559.0,998.9 561.8,985.8 564.3,1011.4 567.3,1001.4 570.1,1013.9 573.1,1014.7 573.1,1032.0 375.7,1032.0" fill="#7eb26d" fill-opacity="0.1"/><polygon points="375.7,1018.9 378.7,1014.7 381.7,1015.2 384.5,1015.2 387.2,1015.9 390.2,1015.9 392.8,1014.7 395.5,1007.6 398.5,1003.4 401.5,1005.1 404.3,1005.6 407.3,1004.4 410.3,1004.4 413.3,1004.1 416.3,1003.1 419.3,1003.9 422.1,1007.6 425.1,1011.4 428.1,1015.2 431.1,1015.7 433.9,1016.4 436.9,1015.9 439.9,1016.4 442.9,1015.7 445.9,1016.9 449.7,1016.4 452.7,1015.2 455.7,1016.4 458.5,1015.7 461.5,1012.7 464.5,1009.6 467.5,1010.6 470.5,1014.7 473.3,1015.2 476.3,1015.2 479.3,1015.2 481.8,1015.2 484.6,1013.9 487.6,1010.1 490.3,1012.2 493.1,1010.9 496.1,1015.2 499.1,1014.7 502.1,1015.7 505.1,1016.4 507.9,1016.4 510.6,1015.2 513.4,1011.9 515.9,1010.1 518.7,1010.9 521.4,1011.9 524.2,1011.4 527.2,1010.1 530.2,1010.6 533.0,1010.1 536.0,1010.6 539.0,1010.9 541.7,1008.9 544.7,1006.4 547.8,1005.9 550.8,1004.4 553.5,1007.6 556.0,1011.4 559.0,1010.9 561.8,1008.4 564.3,1005.1 567.3,1006.4 570.1,1008.9 573.1,1010.6 573.1,1032.0 375.7,1032.0" fill="#eab839" fill-opacity="0.1"/><polyline points="375.7,1003.1 378.7,1015.2 381.7,1015.7 384.5,1016.4 387.2,1019.7 390.2,1005.1 392.8,962.5 395.5,934.1 398.5,1005.1 401.5,1011.9 404.3,1010.9 407.3,1006.4 410.3,1010.9 413.3,1011.9 416.3,1011.9 419.3,1011.4 422.1,1013.9 425.1,1015.7 428.1,1017.7 431.1,1020.2 433.9,1020.7 436.9,1019.7 439.9,1018.9 442.9,1019.2 445.9,1019.2 449.7,1020.2 452.7,1014.7 455.7,1010.1 458.5,1011.4 461.5,997.1 464.5,1011.4 467.5,1016.4 470.5,1020.2 473.3,1020.7 476.3,1017.2 479.3,1018.2 481.8,1019.7 484.6,998.9 487.6,1008.9 490.3,1002.6 493.1,1002.6 496.1,1020.2 499.1,1015.7 502.1,1010.1 505.1,1006.4 507.9,1006.4 510.6,1005.1 513.4,952.5 515.9,878.5 518.7,879.2 521.4,942.4 524.2,1010.1 527.2,1005.1 530.2,1003.9 533.0,1003.1 536.0,1002.6 539.0,1001.4 541.7,1005.1 544.7,1008.9 547.8,1011.4 550.8,1011.9 553.5,1012.7 556.0,1015.9 559.0,998.9 561.8,985.8 564.3,1011.4 567.3,1001.4 570.1,1013.9 573.1,1014.7" fill="none" stroke="#7eb26d" stroke-width="1.0" stroke-linejoin="round"/><polyline points="375.7,1018.9 378.7,1014.7 381.7,1015.2 384.5,1015.2 387.2,1015.9 390.2,1015.9 392.8,1014.7 395.5,1007.6 398.5,1003.4 401.5,1005.1 404.3,1005.6 407.3,1004.4 410.3,1004.4 413.3,1004.1 416.3,1003.1 419.3,1003.9 422.1,1007.6 425.1,1011.4 428.1,1015.2 431.1,1015.7 433.9,1016.4 436.9,1015.9 439.9,1016.4 442.9,1015.7 445.9,1016.9 449.7,1016.4 452.7,1015.2 455.7,1016.4 458.5,1015.7 461.5,1012.7 464.5,1009.6 467.5,1010.6 470.5,1014.7 473.3,1015.2 476.3,1015.2 479.3,1015.2 481.8,1015.2 484.6,1013.9 487.6,1010.1 490.3,1012.2 493.1,1010.9 496.1,1015.2 499.1,1014.7 502.1,1015.7 505.1,1016.4 507.9,1016.4 510.6,1015.2 513.4,1011.9 515.9,1010.1 518.7,1010.9 521.4,1011.9 524.2,1011.4 527.2,1010.1 530.2,1010.6 533.0,1010.1 536.0,1010.6 539.0,1010.9 541.7,1008.9 544.7,1006.4 547.8,1005.9 550.8,1004.4 553.5,1007.6 556.0,1011.4 559.0,1010.9 561.8,1008.4 564.3,1005.1 567.3,1006.4 570.1,1008.9 573.1,1010.6" fill="none" stroke="#eab839" stroke-width="1.0" stroke-linejoin="round"/></svg>
<span class="t " style="left:333.55px;top:844.73px;font-size:11px;line-height:15px;color:#d8d9da;font-weight:bold;transform:scaleX(0.9500);">800 Mil</span>
<span class="t " style="left:333.55px;top:889.48px;font-size:11px;line-height:15px;color:#d8d9da;font-weight:bold;transform:scaleX(0.9500);">600 Mil</span>
<span class="t " style="left:333.55px;top:934.23px;font-size:11px;line-height:15px;color:#d8d9da;font-weight:bold;transform:scaleX(0.9500);">400 Mil</span>
<span class="t " style="left:333.55px;top:978.98px;font-size:11px;line-height:15px;color:#d8d9da;font-weight:bold;transform:scaleX(0.9500);">200 Mil</span>
<span class="t " style="left:362.47px;top:1023.73px;font-size:11px;line-height:15px;color:#d8d9da;font-weight:bold;transform:scaleX(0.9700);">0</span>
<span class="t " style="left:422.10px;top:1036.63px;font-size:11px;line-height:15px;color:#d8d9da;font-weight:bold;transform:scaleX(0.9600);">12:00</span>
<span class="t " style="left:491.10px;top:1036.63px;font-size:11px;line-height:15px;color:#d8d9da;font-weight:bold;transform:scaleX(0.9600);">14:00</span>
<span class="t " style="left:560.10px;top:1036.63px;font-size:11px;line-height:15px;color:#d8d9da;font-weight:bold;transform:scaleX(0.9600);">16:00</span>
<i class="lm" style="left:341.5px;top:1067.4px;background:#7eb26d"></i>
<span class="t " style="left:358.00px;top:1061.53px;font-size:11px;line-height:15px;color:#d8d9da;font-weight:bold;transform:scaleX(0.9220);">Read</span>
<i class="lm" style="left:392.5px;top:1067.4px;background:#eab839"></i>
<span class="t " style="left:409.00px;top:1061.53px;font-size:11px;line-height:15px;color:#d8d9da;font-weight:bold;transform:scaleX(0.9340);">Write</span>
<div class="p" style="left:622.00px;top:817px;width:295.50px;height:270px">
<div class="cn"></div><svg class="ci" viewBox="0 0 14 14" width="11.4" height="11"><path d="M10.5 7.6v2.9a1 1 0 0 1-1 1H3a1 1 0 0 1-1-1V4a1 1 0 0 1 1-1h3.4M8.3 1.6h4.1v4.1M12.2 1.8 6.4 7.6" fill="none" stroke="#7b7b7d" stroke-width="1.35"/></svg>
<i class="rz"></i></div>
<span class="t " style="left:725.55px;top:822.65px;font-size:13px;line-height:18px;color:#d8d9da;font-weight:bold;transform:scaleX(0.9275);">Device Latency</span>
<svg class="a" style="left:0;top:0" width="1849" height="1084" viewBox="0 0 1849 1084"><path d="M667 853.5H887M667 885.5H887M667 917.5H887M667 949.5H887M667 981.5H887M667 1013.5H887M732.5 853V1014M806.5 853V1014M879.5 853V1014" stroke="#454548" stroke-width="1" fill="none" shape-rendering="crispEdges"/><polygon points="668.7,912.1 671.7,939.2 674.7,940.5 677.7,932.6 680.9,953.6 684.0,922.9 687.0,928.4 690.0,911.1 693.0,924.3 696.0,958.8 699.0,931.4 702.3,922.6 705.3,955.3 708.3,958.0 711.3,954.4 714.3,929.9 717.3,957.1 720.3,947.2 723.6,924.5 726.6,951.9 729.6,952.6 732.6,955.6 735.6,940.6 738.6,949.2 741.6,950.6 744.6,956.0 747.9,959.5 750.9,928.7 753.9,903.6 756.9,925.4 759.9,927.9 763.2,885.9 766.2,931.8 769.2,956.8 772.2,955.8 775.2,922.6 778.3,912.6 781.5,960.0 784.5,919.9 787.5,913.1 790.5,934.5 793.6,930.4 796.8,958.5 799.8,957.7 802.8,940.0 805.8,934.2 808.9,915.0 811.9,937.9 814.9,933.4 818.1,928.4 821.1,925.3 824.2,938.7 827.2,937.6 830.2,953.6 833.4,948.6 836.4,945.2 839.5,931.7 842.5,930.1 845.5,949.9 848.7,959.9 851.7,954.6 854.8,955.0 857.8,936.1 860.8,951.4 864.0,932.9 867.0,923.1 870.1,948.8 873.1,935.6 876.1,951.3 879.3,948.0 879.3,1013.0 668.7,1013.0" fill="#7eb26d" fill-opacity="0.1"/><polygon points="668.7,1011.9 671.7,1010.1 674.7,1011.9 711.3,1011.4 714.3,1003.9 717.3,1011.4 720.3,1011.9 759.9,1011.9 763.2,991.8 766.2,1008.9 769.2,1011.9 772.2,1011.9 775.2,1010.1 778.3,1011.9 787.5,1011.4 790.5,1008.4 793.6,1011.4 808.9,1011.9 811.9,1008.9 814.9,1011.9 818.1,1011.9 821.1,1010.1 824.2,1008.9 827.2,1011.9 864.0,1011.9 867.0,1010.9 870.1,1011.9 879.3,1011.9 879.3,1013.0 668.7,1013.0" fill="#eab839" fill-opacity="0.1"/><polygon points="668.7,911.4 671.7,938.5 674.7,939.8 677.7,931.9 680.9,952.9 684.0,922.2 687.0,927.7 690.0,910.4 693.0,923.6 696.0,958.1 699.0,930.7 702.3,921.9 705.3,954.6 708.3,957.3 711.3,953.7 714.3,929.2 717.3,956.4 720.3,946.5 723.6,923.8 726.6,951.2 729.6,951.9 732.6,954.9 735.6,939.9 738.6,948.5 741.6,949.9 744.6,955.3 747.9,958.8 750.9,928.0 753.9,902.9 756.9,924.7 759.9,927.2 763.2,885.2 766.2,931.1 769.2,956.1 772.2,955.1 775.2,921.9 778.3,911.9 781.5,959.3 784.5,919.2 787.5,912.4 790.5,933.8 793.6,929.7 796.8,957.8 799.8,957.0 802.8,939.3 805.8,933.5 808.9,914.3 811.9,937.2 814.9,932.7 818.1,927.7 821.1,924.6 824.2,938.0 827.2,936.9 830.2,952.9 833.4,947.9 836.4,944.5 839.5,931.0 842.5,929.4 845.5,949.2 848.7,959.2 851.7,953.9 854.8,954.3 857.8,935.4 860.8,950.7 864.0,932.2 867.0,922.4 870.1,948.1 873.1,934.9 876.1,950.6 879.3,947.3 879.3,1013.0 668.7,1013.0" fill="#6ed0e0" fill-opacity="0.1"/><polygon points="668.7,916.1 671.7,942.4 674.7,943.7 677.7,937.4 680.9,966.3 684.0,926.1 687.0,932.4 690.0,913.6 693.0,929.9 696.0,967.5 699.0,942.4 702.3,928.6 705.3,962.5 708.3,966.3 711.3,966.3 714.3,938.7 717.3,965.0 720.3,957.5 723.6,938.7 726.6,957.5 729.6,963.2 732.6,962.0 735.6,946.2 738.6,952.5 741.6,956.2 744.6,960.0 747.9,968.3 750.9,937.4 753.9,906.8 756.9,928.6 759.9,931.1 763.2,891.0 766.2,937.4 769.2,960.0 772.2,964.5 775.2,927.4 778.3,917.3 781.5,963.2 784.5,922.4 787.5,916.8 790.5,936.9 793.6,934.9 796.8,963.7 799.8,963.7 802.8,942.4 805.8,936.7 808.9,921.9 811.9,941.2 814.9,937.4 818.1,932.4 821.1,926.1 824.2,941.2 827.2,942.4 830.2,962.0 833.4,955.0 836.4,949.9 839.5,934.9 842.5,934.9 845.5,956.2 848.7,968.3 851.7,962.5 854.8,965.0 857.8,948.7 860.8,962.5 864.0,942.4 867.0,927.9 870.1,957.5 873.1,941.2 876.1,966.3 879.3,956.7 879.3,1013.0 668.7,1013.0" fill="#ef843c" fill-opacity="0.1"/><polygon points="668.7,1001.4 671.7,1000.6 674.7,1000.9 677.7,1000.1 684.0,1000.9 687.0,1001.4 690.0,994.6 693.0,993.1 699.0,993.1 702.3,992.6 717.3,992.6 720.3,996.3 723.6,997.6 726.6,1000.1 732.6,1000.6 744.9,1000.9 756.9,1000.9 759.9,997.6 763.2,997.1 766.2,998.1 769.2,1000.6 772.2,1001.4 781.5,1000.9 784.5,997.6 787.5,996.3 790.5,993.1 793.6,996.3 796.8,999.6 802.8,1000.1 808.9,1000.6 811.9,1000.1 814.9,995.6 821.1,996.3 827.2,996.3 830.2,995.1 836.4,995.1 839.5,996.3 842.5,995.8 845.5,992.1 851.7,991.3 854.8,990.6 857.8,990.8 860.8,994.6 864.0,995.6 867.0,991.8 870.1,991.3 873.1,990.8 876.1,990.1 879.3,994.6 879.3,1013.0 668.7,1013.0" fill="#e24d42" fill-opacity="0.1"/><polyline points="668.7,912.1 671.7,939.2 674.7,940.5 677.7,932.6 680.9,953.6 684.0,922.9 687.0,928.4 690.0,911.1 693.0,924.3 696.0,958.8 699.0,931.4 702.3,922.6 705.3,955.3 708.3,958.0 711.3,954.4 714.3,929.9 717.3,957.1 720.3,947.2 723.6,924.5 726.6,951.9 729.6,952.6 732.6,955.6 735.6,940.6 738.6,949.2 741.6,950.6 744.6,956.0 747.9,959.5 750.9,928.7 753.9,903.6 756.9,925.4 759.9,927.9 763.2,885.9 766.2,931.8 769.2,956.8 772.2,955.8 775.2,922.6 778.3,912.6 781.5,960.0 784.5,919.9 787.5,913.1 790.5,934.5 793.6,930.4 796.8,958.5 799.8,957.7 802.8,940.0 805.8,934.2 808.9,915.0 811.9,937.9 814.9,933.4 818.1,928.4 821.1,925.3 824.2,938.7 827.2,937.6 830.2,953.6 833.4,948.6 836.4,945.2 839.5,931.7 842.5,930.1 845.5,949.9 848.7,959.9 851.7,954.6 854.8,955.0 857.8,936.1 860.8,951.4 864.0,932.9 867.0,923.1 870.1,948.8 873.1,935.6 876.1,951.3 879.3,948.0" fill="none" stroke="#7eb26d" stroke-width="1.0" stroke-linejoin="round"/><polyline points="668.7,1011.9 671.7,1010.1 674.7,1011.9 711.3,1011.4 714.3,1003.9 717.3,1011.4 720.3,1011.9 759.9,1011.9 763.2,991.8 766.2,1008.9 769.2,1011.9 772.2,1011.9 775.2,1010.1 778.3,1011.9 787.5,1011.4 790.5,1008.4 793.6,1011.4 808.9,1011.9 811.9,1008.9 814.9,1011.9 818.1,1011.9 821.1,1010.1 824.2,1008.9 827.2,1011.9 864.0,1011.9 867.0,1010.9 870.1,1011.9 879.3,1011.9" fill="none" stroke="#eab839" stroke-width="1.0" stroke-linejoin="round"/><polyline points="668.7,911.4 671.7,938.5 674.7,939.8 677.7,931.9 680.9,952.9 684.0,922.2 687.0,927.7 690.0,910.4 693.0,923.6 696.0,958.1 699.0,930.7 702.3,921.9 705.3,954.6 708.3,957.3 711.3,953.7 714.3,929.2 717.3,956.4 720.3,946.5 723.6,923.8 726.6,951.2 729.6,951.9 732.6,954.9 735.6,939.9 738.6,948.5 741.6,949.9 744.6,955.3 747.9,958.8 750.9,928.0 753.9,902.9 756.9,924.7 759.9,927.2 763.2,885.2 766.2,931.1 769.2,956.1 772.2,955.1 775.2,921.9 778.3,911.9 781.5,959.3 784.5,919.2 787.5,912.4 790.5,933.8 793.6,929.7 796.8,957.8 799.8,957.0 802.8,939.3 805.8,933.5 808.9,914.3 811.9,937.2 814.9,932.7 818.1,927.7 821.1,924.6 824.2,938.0 827.2,936.9 830.2,952.9 833.4,947.9 836.4,944.5 839.5,931.0 842.5,929.4 845.5,949.2 848.7,959.2 851.7,953.9 854.8,954.3 857.8,935.4 860.8,950.7 864.0,932.2 867.0,922.4 870.1,948.1 873.1,934.9 876.1,950.6 879.3,947.3" fill="none" stroke="#6ed0e0" stroke-width="1.0" stroke-linejoin="round"/><polyline points="668.7,916.1 671.7,942.4 674.7,943.7 677.7,937.4 680.9,966.3 684.0,926.1 687.0,932.4 690.0,913.6 693.0,929.9 696.0,967.5 699.0,942.4 702.3,928.6 705.3,962.5 708.3,966.3 711.3,966.3 714.3,938.7 717.3,965.0 720.3,957.5 723.6,938.7 726.6,957.5 729.6,963.2 732.6,962.0 735.6,946.2 738.6,952.5 741.6,956.2 744.6,960.0 747.9,968.3 750.9,937.4 753.9,906.8 756.9,928.6 759.9,931.1 763.2,891.0 766.2,937.4 769.2,960.0 772.2,964.5 775.2,927.4 778.3,917.3 781.5,963.2 784.5,922.4 787.5,916.8 790.5,936.9 793.6,934.9 796.8,963.7 799.8,963.7 802.8,942.4 805.8,936.7 808.9,921.9 811.9,941.2 814.9,937.4 818.1,932.4 821.1,926.1 824.2,941.2 827.2,942.4 830.2,962.0 833.4,955.0 836.4,949.9 839.5,934.9 842.5,934.9 845.5,956.2 848.7,968.3 851.7,962.5 854.8,965.0 857.8,948.7 860.8,962.5 864.0,942.4 867.0,927.9 870.1,957.5 873.1,941.2 876.1,966.3 879.3,956.7" fill="none" stroke="#ef843c" stroke-width="1.0" stroke-linejoin="round"/><polyline points="668.7,1001.4 671.7,1000.6 674.7,1000.9 677.7,1000.1 684.0,1000.9 687.0,1001.4 690.0,994.6 693.0,993.1 699.0,993.1 702.3,992.6 717.3,992.6 720.3,996.3 723.6,997.6 726.6,1000.1 732.6,1000.6 744.9,1000.9 756.9,1000.9 759.9,997.6 763.2,997.1 766.2,998.1 769.2,1000.6 772.2,1001.4 781.5,1000.9 784.5,997.6 787.5,996.3 790.5,993.1 793.6,996.3 796.8,999.6 802.8,1000.1 808.9,1000.6 811.9,1000.1 814.9,995.6 821.1,996.3 827.2,996.3 830.2,995.1 836.4,995.1 839.5,996.3 842.5,995.8 845.5,992.1 851.7,991.3 854.8,990.6 857.8,990.8 860.8,994.6 864.0,995.6 867.0,991.8 870.1,991.3 873.1,990.8 876.1,990.1 879.3,994.6" fill="none" stroke="#e24d42" stroke-width="1.0" stroke-linejoin="round"/></svg>
<span class="t " style="left:639.79px;top:844.73px;font-size:11px;line-height:15px;color:#d8d9da;font-weight:bold;transform:scaleX(0.9300);">50 K</span>
<span class="t " style="left:639.79px;top:876.73px;font-size:11px;line-height:15px;color:#d8d9da;font-weight:bold;transform:scaleX(0.9300);">40 K</span>
<span class="t " style="left:639.79px;top:908.73px;font-size:11px;line-height:15px;color:#d8d9da;font-weight:bold;transform:scaleX(0.9300);">30 K</span>
<span class="t " style="left:639.79px;top:940.73px;font-size:11px;line-height:15px;color:#d8d9da;font-weight:bold;transform:scaleX(0.9300);">20 K</span>
<span class="t " style="left:639.79px;top:972.73px;font-size:11px;line-height:15px;color:#d8d9da;font-weight:bold;transform:scaleX(0.9300);">10 K</span>
<span class="t " style="left:655.47px;top:1004.73px;font-size:11px;line-height:15px;color:#d8d9da;font-weight:bold;transform:scaleX(0.9700);">0</span>
<span class="t " style="left:719.10px;top:1017.63px;font-size:11px;line-height:15px;color:#d8d9da;font-weight:bold;transform:scaleX(0.9600);">12:00</span>
<span class="t " style="left:793.10px;top:1017.63px;font-size:11px;line-height:15px;color:#d8d9da;font-weight:bold;transform:scaleX(0.9600);">14:00</span>
<span class="t " style="left:866.10px;top:1017.63px;font-size:11px;line-height:15px;color:#d8d9da;font-weight:bold;transform:scaleX(0.9600);">16:00</span>
<i class="lm" style="left:648.5px;top:1048.2px;background:#7eb26d"></i>
<span class="t " style="left:665.00px;top:1042.33px;font-size:11px;line-height:15px;color:#d8d9da;font-weight:bold;transform:scaleX(0.9139);">DAVG</span>
<i class="lm" style="left:703.0px;top:1048.2px;background:#eab839"></i>
<span class="t " style="left:719.50px;top:1042.33px;font-size:11px;line-height:15px;color:#d8d9da;font-weight:bold;transform:scaleX(0.9236);">KAVG</span>
<i class="lm" style="left:757.8px;top:1048.2px;background:#6ed0e0"></i>
<span class="t " style="left:774.30px;top:1042.33px;font-size:11px;line-height:15px;color:#d8d9da;font-weight:bold;transform:scaleX(0.8962);">GAVG</span>
<i class="lm" style="left:812.3px;top:1048.2px;background:#ef843c"></i>
<span class="t " style="left:828.80px;top:1042.33px;font-size:11px;line-height:15px;color:#d8d9da;font-weight:bold;transform:scaleX(0.9025);">RDLAT</span>
<i class="lm" style="left:648.5px;top:1067.3px;background:#e24d42"></i>
<span class="t " style="left:665.00px;top:1061.43px;font-size:11px;line-height:15px;color:#d8d9da;font-weight:bold;transform:scaleX(0.9128);">WRLAT</span>
<div class="p" style="left:928.20px;top:817px;width:295.50px;height:270px">
<div class="cn"></div><svg class="ci" viewBox="0 0 14 14" width="11.4" height="11"><path d="M10.5 7.6v2.9a1 1 0 0 1-1 1H3a1 1 0 0 1-1-1V4a1 1 0 0 1 1-1h3.4M8.3 1.6h4.1v4.1M12.2 1.8 6.4 7.6" fill="none" stroke="#7b7b7d" stroke-width="1.35"/></svg>
<i class="rz"></i></div>
<span class="t " style="left:971.20px;top:822.65px;font-size:13px;line-height:18px;color:#d8d9da;font-weight:bold;transform:scaleX(0.9328);">PLOG Elev (aka Destage/Drain) Tput</span>
<svg class="a" style="left:0;top:0" width="1849" height="1084" viewBox="0 0 1849 1084"><path d="M981 853.5H1193M981 888.5H1193M981 924.5H1193M981 960.5H1193M981 996.5H1193M981 1032.5H1193M1044.5 853V1033M1115.5 853V1033M1185.5 853V1033" stroke="#454548" stroke-width="1" fill="none" shape-rendering="crispEdges"/><polygon points="982.7,951.2 985.7,933.9 988.7,934.4 991.7,936.4 994.7,933.1 997.7,934.4 1000.7,937.7 1003.2,888.0 1006.0,864.7 1009.0,867.4 1012.0,869.4 1015.0,870.4 1018.0,869.2 1021.1,869.9 1024.1,869.9 1027.1,869.2 1030.1,888.0 1033.1,903.0 1035.9,930.6 1038.9,933.6 1041.9,934.9 1044.9,934.9 1047.9,933.9 1050.9,933.9 1053.4,935.7 1056.4,933.9 1059.4,934.6 1062.4,933.9 1065.4,935.2 1068.0,934.4 1071.0,914.3 1074.0,903.5 1077.0,908.1 1080.0,933.6 1083.0,934.9 1086.0,934.4 1089.0,933.9 1091.5,935.2 1094.5,928.1 1097.6,901.3 1100.6,913.6 1103.1,903.5 1106.1,935.2 1109.1,934.6 1112.1,933.6 1115.1,934.4 1118.1,933.9 1121.1,935.2 1124.1,915.6 1126.9,903.0 1129.9,903.0 1132.9,901.8 1135.9,903.5 1138.9,903.5 1141.7,902.0 1144.7,904.8 1147.7,906.1 1150.7,901.8 1153.2,889.3 1156.2,869.7 1159.3,870.9 1162.3,869.2 1165.3,884.2 1168.3,903.5 1171.3,900.5 1174.3,885.0 1177.1,869.2 1180.1,870.4 1183.1,893.0 1185.6,901.8 1185.6,1032.0 982.7,1032.0" fill="#7eb26d" fill-opacity="0.1"/><polygon points="982.7,951.2 985.7,933.9 988.7,934.4 991.7,936.4 994.7,933.1 997.7,934.4 1000.7,937.7 1003.2,888.0 1006.0,864.7 1009.0,867.4 1012.0,869.4 1015.0,870.4 1018.0,869.2 1021.1,869.9 1024.1,869.9 1027.1,869.2 1030.1,888.0 1033.1,903.0 1035.9,930.6 1038.9,933.6 1041.9,934.9 1044.9,934.9 1047.9,933.9 1050.9,933.9 1053.4,935.7 1056.4,933.9 1059.4,934.6 1062.4,933.9 1065.4,935.2 1068.0,934.4 1071.0,914.3 1074.0,903.5 1077.0,908.1 1080.0,933.6 1083.0,934.9 1086.0,934.4 1089.0,933.9 1091.5,935.2 1094.5,928.1 1097.6,901.3 1100.6,913.6 1103.1,903.5 1106.1,935.2 1109.1,934.6 1112.1,933.6 1115.1,934.4 1118.1,933.9 1121.1,935.2 1124.1,915.6 1126.9,903.0 1129.9,903.0 1132.9,901.8 1135.9,903.5 1138.9,903.5 1141.7,902.0 1144.7,904.8 1147.7,906.1 1150.7,901.8 1153.2,889.3 1156.2,869.7 1159.3,870.9 1162.3,869.2 1165.3,884.2 1168.3,903.5 1171.3,900.5 1174.3,885.0 1177.1,869.2 1180.1,870.4 1183.1,893.0 1185.6,901.8 1185.6,1032.0 982.7,1032.0" fill="#eab839" fill-opacity="0.1"/><polyline points="982.7,951.2 985.7,933.9 988.7,934.4 991.7,936.4 994.7,933.1 997.7,934.4 1000.7,937.7 1003.2,888.0 1006.0,864.7 1009.0,867.4 1012.0,869.4 1015.0,870.4 1018.0,869.2 1021.1,869.9 1024.1,869.9 1027.1,869.2 1030.1,888.0 1033.1,903.0 1035.9,930.6 1038.9,933.6 1041.9,934.9 1044.9,934.9 1047.9,933.9 1050.9,933.9 1053.4,935.7 1056.4,933.9 1059.4,934.6 1062.4,933.9 1065.4,935.2 1068.0,934.4 1071.0,914.3 1074.0,903.5 1077.0,908.1 1080.0,933.6 1083.0,934.9 1086.0,934.4 1089.0,933.9 1091.5,935.2 1094.5,928.1 1097.6,901.3 1100.6,913.6 1103.1,903.5 1106.1,935.2 1109.1,934.6 1112.1,933.6 1115.1,934.4 1118.1,933.9 1121.1,935.2 1124.1,915.6 1126.9,903.0 1129.9,903.0 1132.9,901.8 1135.9,903.5 1138.9,903.5 1141.7,902.0 1144.7,904.8 1147.7,906.1 1150.7,901.8 1153.2,889.3 1156.2,869.7 1159.3,870.9 1162.3,869.2 1165.3,884.2 1168.3,903.5 1171.3,900.5 1174.3,885.0 1177.1,869.2 1180.1,870.4 1183.1,893.0 1185.6,901.8" fill="none" stroke="#7eb26d" stroke-width="1.0" stroke-linejoin="round"/><polyline points="982.7,951.2 985.7,933.9 988.7,934.4 991.7,936.4 994.7,933.1 997.7,934.4 1000.7,937.7 1003.2,888.0 1006.0,864.7 1009.0,867.4 1012.0,869.4 1015.0,870.4 1018.0,869.2 1021.1,869.9 1024.1,869.9 1027.1,869.2 1030.1,888.0 1033.1,903.0 1035.9,930.6 1038.9,933.6 1041.9,934.9 1044.9,934.9 1047.9,933.9 1050.9,933.9 1053.4,935.7 1056.4,933.9 1059.4,934.6 1062.4,933.9 1065.4,935.2 1068.0,934.4 1071.0,914.3 1074.0,903.5 1077.0,908.1 1080.0,933.6 1083.0,934.9 1086.0,934.4 1089.0,933.9 1091.5,935.2 1094.5,928.1 1097.6,901.3 1100.6,913.6 1103.1,903.5 1106.1,935.2 1109.1,934.6 1112.1,933.6 1115.1,934.4 1118.1,933.9 1121.1,935.2 1124.1,915.6 1126.9,903.0 1129.9,903.0 1132.9,901.8 1135.9,903.5 1138.9,903.5 1141.7,902.0 1144.7,904.8 1147.7,906.1 1150.7,901.8 1153.2,889.3 1156.2,869.7 1159.3,870.9 1162.3,869.2 1165.3,884.2 1168.3,903.5 1171.3,900.5 1174.3,885.0 1177.1,869.2 1180.1,870.4 1183.1,893.0 1185.6,901.8" fill="none" stroke="#eab839" stroke-width="1.0" stroke-linejoin="round"/><polyline points="982.7,1032.0 1185.6,1032.0" fill="none" stroke="#52a5b2" stroke-width="1.7" stroke-linejoin="round"/></svg>
<span class="t " style="left:946.36px;top:844.73px;font-size:11px;line-height:15px;color:#d8d9da;font-weight:bold;transform:scaleX(0.9500);">50 Mil</span>
<span class="t " style="left:946.36px;top:880.53px;font-size:11px;line-height:15px;color:#d8d9da;font-weight:bold;transform:scaleX(0.9500);">40 Mil</span>
<span class="t " style="left:946.36px;top:916.33px;font-size:11px;line-height:15px;color:#d8d9da;font-weight:bold;transform:scaleX(0.9500);">30 Mil</span>
<span class="t " style="left:946.36px;top:952.13px;font-size:11px;line-height:15px;color:#d8d9da;font-weight:bold;transform:scaleX(0.9500);">20 Mil</span>
<span class="t " style="left:946.36px;top:987.93px;font-size:11px;line-height:15px;color:#d8d9da;font-weight:bold;transform:scaleX(0.9500);">10 Mil</span>
<span class="t " style="left:969.47px;top:1023.73px;font-size:11px;line-height:15px;color:#d8d9da;font-weight:bold;transform:scaleX(0.9700);">0</span>
<span class="t " style="left:1031.10px;top:1036.63px;font-size:11px;line-height:15px;color:#d8d9da;font-weight:bold;transform:scaleX(0.9600);">12:00</span>
<span class="t " style="left:1102.10px;top:1036.63px;font-size:11px;line-height:15px;color:#d8d9da;font-weight:bold;transform:scaleX(0.9600);">14:00</span>
<span class="t " style="left:1172.10px;top:1036.63px;font-size:11px;line-height:15px;color:#d8d9da;font-weight:bold;transform:scaleX(0.9600);">16:00</span>
<i class="lm" style="left:954.9px;top:1067.4px;background:#7eb26d"></i>
<span class="t " style="left:971.40px;top:1061.53px;font-size:11px;line-height:15px;color:#d8d9da;font-weight:bold;transform:scaleX(0.9290);">TotalDrained</span>
<i class="lm" style="left:1042.8px;top:1067.4px;background:#eab839"></i>
<span class="t " style="left:1059.30px;top:1061.53px;font-size:11px;line-height:15px;color:#d8d9da;font-weight:bold;transform:scaleX(0.9076);">SSDDrained</span>
<i class="lm" style="left:1126.7px;top:1067.4px;background:#6ed0e0"></i>
<span class="t " style="left:1143.20px;top:1061.53px;font-size:11px;line-height:15px;color:#d8d9da;font-weight:bold;transform:scaleX(0.9260);">ZeroDrained</span>
<div class="p" style="left:1234.20px;top:817px;width:295.50px;height:270px">
<div class="cn"></div><svg class="ci" viewBox="0 0 14 14" width="11.4" height="11"><path d="M10.5 7.6v2.9a1 1 0 0 1-1 1H3a1 1 0 0 1-1-1V4a1 1 0 0 1 1-1h3.4M8.3 1.6h4.1v4.1M12.2 1.8 6.4 7.6" fill="none" stroke="#7b7b7d" stroke-width="1.35"/></svg>
<i class="rz"></i></div>
<span class="t " style="left:1336.40px;top:822.65px;font-size:13px;line-height:18px;color:#d8d9da;font-weight:bold;transform:scaleX(0.9012);">PLOG Elev IOPs</span>
<svg class="a" style="left:0;top:0" width="1849" height="1084" viewBox="0 0 1849 1084"><path d="M1276 853.5H1499M1276 897.5H1499M1276 942.5H1499M1276 987.5H1499M1276 1032.5H1499M1342.5 853V1033M1417.5 853V1033M1491.5 853V1033" stroke="#454548" stroke-width="1" fill="none" shape-rendering="crispEdges"/><polygon points="1277.9,956.7 1280.9,940.7 1283.9,940.7 1293.2,940.7 1296.2,942.4 1299.2,894.8 1302.2,874.2 1305.5,879.2 1308.5,879.7 1323.8,879.7 1326.8,897.3 1330.1,909.8 1333.1,937.4 1336.1,940.7 1366.9,940.7 1370.2,920.4 1373.2,910.3 1376.2,914.8 1379.5,940.7 1391.8,940.7 1394.8,934.9 1398.0,910.3 1401.0,922.4 1404.3,910.3 1407.3,940.7 1422.9,940.7 1425.9,922.4 1429.1,910.3 1453.7,910.3 1456.7,896.0 1459.7,879.7 1466.0,879.7 1469.0,894.8 1472.3,910.3 1475.3,910.3 1478.3,896.0 1481.6,879.7 1484.6,879.7 1487.6,902.3 1491.3,910.3 1491.3,1032.0 1277.9,1032.0" fill="#7eb26d" fill-opacity="0.1"/><polygon points="1277.9,956.7 1280.9,940.7 1283.9,940.7 1293.2,940.7 1296.2,942.4 1299.2,894.8 1302.2,874.2 1305.5,879.2 1308.5,879.7 1323.8,879.7 1326.8,897.3 1330.1,909.8 1333.1,937.4 1336.1,940.7 1366.9,940.7 1370.2,920.4 1373.2,910.3 1376.2,914.8 1379.5,940.7 1391.8,940.7 1394.8,934.9 1398.0,910.3 1401.0,922.4 1404.3,910.3 1407.3,940.7 1422.9,940.7 1425.9,922.4 1429.1,910.3 1453.7,910.3 1456.7,896.0 1459.7,879.7 1466.0,879.7 1469.0,894.8 1472.3,910.3 1475.3,910.3 1478.3,896.0 1481.6,879.7 1484.6,879.7 1487.6,902.3 1491.3,910.3 1491.3,1032.0 1277.9,1032.0" fill="#eab839" fill-opacity="0.1"/><polygon points="1277.9,1030.2 1280.9,1032.0 1296.2,1032.0 1299.2,1028.2 1302.2,1032.0 1366.9,1032.0 1370.2,1030.2 1373.2,1032.0 1391.8,1032.0 1394.8,1030.2 1398.0,1032.0 1401.0,1030.2 1404.3,1032.0 1422.9,1032.0 1425.9,1030.2 1429.1,1032.0 1453.7,1032.0 1456.7,1030.2 1459.7,1032.0 1475.3,1032.0 1478.3,1030.2 1481.6,1032.0 1491.3,1032.0 1491.3,1032.0 1277.9,1032.0" fill="#6ed0e0" fill-opacity="0.1"/><polyline points="1277.9,956.7 1280.9,940.7 1283.9,940.7 1293.2,940.7 1296.2,942.4 1299.2,894.8 1302.2,874.2 1305.5,879.2 1308.5,879.7 1323.8,879.7 1326.8,897.3 1330.1,909.8 1333.1,937.4 1336.1,940.7 1366.9,940.7 1370.2,920.4 1373.2,910.3 1376.2,914.8 1379.5,940.7 1391.8,940.7 1394.8,934.9 1398.0,910.3 1401.0,922.4 1404.3,910.3 1407.3,940.7 1422.9,940.7 1425.9,922.4 1429.1,910.3 1453.7,910.3 1456.7,896.0 1459.7,879.7 1466.0,879.7 1469.0,894.8 1472.3,910.3 1475.3,910.3 1478.3,896.0 1481.6,879.7 1484.6,879.7 1487.6,902.3 1491.3,910.3" fill="none" stroke="#7eb26d" stroke-width="1.0" stroke-linejoin="round"/><polyline points="1277.9,956.7 1280.9,940.7 1283.9,940.7 1293.2,940.7 1296.2,942.4 1299.2,894.8 1302.2,874.2 1305.5,879.2 1308.5,879.7 1323.8,879.7 1326.8,897.3 1330.1,909.8 1333.1,937.4 1336.1,940.7 1366.9,940.7 1370.2,920.4 1373.2,910.3 1376.2,914.8 1379.5,940.7 1391.8,940.7 1394.8,934.9 1398.0,910.3 1401.0,922.4 1404.3,910.3 1407.3,940.7 1422.9,940.7 1425.9,922.4 1429.1,910.3 1453.7,910.3 1456.7,896.0 1459.7,879.7 1466.0,879.7 1469.0,894.8 1472.3,910.3 1475.3,910.3 1478.3,896.0 1481.6,879.7 1484.6,879.7 1487.6,902.3 1491.3,910.3" fill="none" stroke="#eab839" stroke-width="1.0" stroke-linejoin="round"/><polyline points="1277.9,1030.2 1280.9,1032.0 1296.2,1032.0 1299.2,1028.2 1302.2,1032.0 1366.9,1032.0 1370.2,1030.2 1373.2,1032.0 1391.8,1032.0 1394.8,1030.2 1398.0,1032.0 1401.0,1030.2 1404.3,1032.0 1422.9,1032.0 1425.9,1030.2 1429.1,1032.0 1453.7,1032.0 1456.7,1030.2 1459.7,1032.0 1475.3,1032.0 1478.3,1030.2 1481.6,1032.0 1491.3,1032.0" fill="none" stroke="#6ed0e0" stroke-width="1.15" stroke-linejoin="round"/></svg>
<span class="t " style="left:1252.60px;top:844.73px;font-size:11px;line-height:15px;color:#d8d9da;font-weight:bold;transform:scaleX(0.9700);">100</span>
<span class="t " style="left:1258.53px;top:889.48px;font-size:11px;line-height:15px;color:#d8d9da;font-weight:bold;transform:scaleX(0.9700);">75</span>
<span class="t " style="left:1258.53px;top:934.23px;font-size:11px;line-height:15px;color:#d8d9da;font-weight:bold;transform:scaleX(0.9700);">50</span>
<span class="t " style="left:1258.53px;top:978.98px;font-size:11px;line-height:15px;color:#d8d9da;font-weight:bold;transform:scaleX(0.9700);">25</span>
<span class="t " style="left:1264.47px;top:1023.73px;font-size:11px;line-height:15px;color:#d8d9da;font-weight:bold;transform:scaleX(0.9700);">0</span>
<span class="t " style="left:1328.90px;top:1036.63px;font-size:11px;line-height:15px;color:#d8d9da;font-weight:bold;transform:scaleX(0.9600);">12:00</span>
<span class="t " style="left:1403.80px;top:1036.63px;font-size:11px;line-height:15px;color:#d8d9da;font-weight:bold;transform:scaleX(0.9600);">14:00</span>
<span class="t " style="left:1478.10px;top:1036.63px;font-size:11px;line-height:15px;color:#d8d9da;font-weight:bold;transform:scaleX(0.9600);">16:00</span>
<i class="lm" style="left:1260.9px;top:1067.4px;background:#7eb26d"></i>
<span class="t " style="left:1277.40px;top:1061.53px;font-size:11px;line-height:15px;color:#d8d9da;font-weight:bold;transform:scaleX(0.8966);">ElevSSDOPS</span>
<i class="lm" style="left:1348.5px;top:1067.4px;background:#eab839"></i>
<span class="t " style="left:1365.00px;top:1061.53px;font-size:11px;line-height:15px;color:#d8d9da;font-weight:bold;transform:scaleX(0.9163);">ElevMDOPS</span>
<i class="lm" style="left:1432.4px;top:1067.4px;background:#6ed0e0"></i>
<span class="t " style="left:1448.90px;top:1061.53px;font-size:11px;line-height:15px;color:#d8d9da;font-weight:bold;transform:scaleX(0.8993);">Cycles</span>
<div class="p" style="left:1541.00px;top:817px;width:295.50px;height:270px">
<div class="cn"></div><svg class="ci" viewBox="0 0 14 14" width="11.4" height="11"><path d="M10.5 7.6v2.9a1 1 0 0 1-1 1H3a1 1 0 0 1-1-1V4a1 1 0 0 1 1-1h3.4M8.3 1.6h4.1v4.1M12.2 1.8 6.4 7.6" fill="none" stroke="#7b7b7d" stroke-width="1.35"/></svg>
<i class="rz"></i></div>
<span class="t " style="left:1634.15px;top:822.65px;font-size:13px;line-height:18px;color:#d8d9da;font-weight:bold;transform:scaleX(0.9055);">PLOG Elev Latency</span>
<svg class="a" style="left:0;top:0" width="1849" height="1084" viewBox="0 0 1849 1084"><path d="M1586 853.5H1806M1586 888.5H1806M1586 924.5H1806M1586 960.5H1806M1586 996.5H1806M1586 1032.5H1806M1651.5 853V1033M1725.5 853V1033M1798.5 853V1033" stroke="#454548" stroke-width="1" fill="none" shape-rendering="crispEdges"/><polygon points="1587.7,995.6 1590.7,998.4 1593.4,996.3 1596.4,998.9 1599.4,1000.1 1602.5,997.6 1606.0,987.6 1609.0,950.4 1612.0,978.0 1615.0,978.8 1618.0,979.3 1621.0,978.0 1624.3,979.3 1627.3,980.0 1630.3,980.0 1633.3,979.3 1636.3,980.0 1639.3,989.6 1642.3,989.3 1645.6,1001.1 1648.6,1001.4 1651.6,1000.6 1654.6,999.6 1657.6,1000.9 1660.6,1001.4 1663.7,1000.6 1666.7,1000.6 1669.9,998.9 1672.9,999.4 1676.2,998.9 1679.2,981.8 1682.2,988.1 1685.2,990.6 1688.5,1000.1 1691.5,1001.4 1694.5,1000.1 1697.5,1000.1 1700.5,1000.4 1703.5,984.6 1706.5,988.8 1709.8,971.3 1712.8,985.6 1715.8,999.6 1718.8,1000.6 1721.8,1000.1 1724.9,998.9 1727.9,997.1 1731.1,998.1 1734.1,983.3 1737.1,990.1 1740.2,991.3 1743.4,989.3 1746.4,987.1 1749.4,986.3 1752.4,986.8 1755.7,987.6 1758.7,985.8 1761.7,985.1 1764.7,978.8 1767.7,978.0 1770.7,980.5 1774.0,981.3 1777.0,981.8 1780.0,992.1 1783.0,987.1 1786.0,974.3 1789.1,980.0 1792.3,978.3 1795.3,982.6 1798.6,989.1 1798.6,1032.0 1587.7,1032.0" fill="#7eb26d" fill-opacity="0.1"/><polygon points="1587.7,943.2 1590.7,936.2 1593.4,934.1 1596.4,937.4 1599.4,940.7 1602.5,939.4 1606.0,934.9 1609.0,860.4 1612.0,871.7 1615.0,874.7 1618.0,871.7 1621.0,865.9 1624.3,876.0 1627.3,871.7 1630.3,874.2 1633.3,872.9 1636.3,873.4 1639.3,907.3 1642.3,906.1 1645.6,941.9 1648.6,941.9 1651.6,940.7 1654.6,939.4 1657.6,940.7 1660.6,941.7 1663.7,941.9 1666.7,941.7 1669.9,937.4 1672.9,939.9 1676.2,934.9 1679.2,903.5 1682.2,906.1 1685.2,901.8 1688.5,935.4 1691.5,939.4 1694.5,935.4 1697.5,938.2 1700.5,939.4 1703.5,900.3 1706.5,908.6 1709.8,872.2 1712.8,903.5 1715.8,938.2 1718.8,937.4 1721.8,939.9 1724.9,942.9 1727.9,943.7 1731.1,937.4 1734.1,898.5 1737.1,901.8 1740.2,909.3 1743.4,916.3 1746.4,916.1 1749.4,904.8 1752.4,903.5 1755.7,906.8 1758.7,904.3 1761.7,908.6 1764.7,881.0 1767.7,886.0 1770.7,883.5 1774.0,880.5 1777.0,880.2 1780.0,914.8 1783.0,906.1 1786.0,884.7 1789.1,884.2 1792.3,887.7 1795.3,878.5 1798.6,902.8 1798.6,1032.0 1587.7,1032.0" fill="#eab839" fill-opacity="0.1"/><polyline points="1587.7,995.6 1590.7,998.4 1593.4,996.3 1596.4,998.9 1599.4,1000.1 1602.5,997.6 1606.0,987.6 1609.0,950.4 1612.0,978.0 1615.0,978.8 1618.0,979.3 1621.0,978.0 1624.3,979.3 1627.3,980.0 1630.3,980.0 1633.3,979.3 1636.3,980.0 1639.3,989.6 1642.3,989.3 1645.6,1001.1 1648.6,1001.4 1651.6,1000.6 1654.6,999.6 1657.6,1000.9 1660.6,1001.4 1663.7,1000.6 1666.7,1000.6 1669.9,998.9 1672.9,999.4 1676.2,998.9 1679.2,981.8 1682.2,988.1 1685.2,990.6 1688.5,1000.1 1691.5,1001.4 1694.5,1000.1 1697.5,1000.1 1700.5,1000.4 1703.5,984.6 1706.5,988.8 1709.8,971.3 1712.8,985.6 1715.8,999.6 1718.8,1000.6 1721.8,1000.1 1724.9,998.9 1727.9,997.1 1731.1,998.1 1734.1,983.3 1737.1,990.1 1740.2,991.3 1743.4,989.3 1746.4,987.1 1749.4,986.3 1752.4,986.8 1755.7,987.6 1758.7,985.8 1761.7,985.1 1764.7,978.8 1767.7,978.0 1770.7,980.5 1774.0,981.3 1777.0,981.8 1780.0,992.1 1783.0,987.1 1786.0,974.3 1789.1,980.0 1792.3,978.3 1795.3,982.6 1798.6,989.1" fill="none" stroke="#7eb26d" stroke-width="1.0" stroke-linejoin="round"/><polyline points="1587.7,943.2 1590.7,936.2 1593.4,934.1 1596.4,937.4 1599.4,940.7 1602.5,939.4 1606.0,934.9 1609.0,860.4 1612.0,871.7 1615.0,874.7 1618.0,871.7 1621.0,865.9 1624.3,876.0 1627.3,871.7 1630.3,874.2 1633.3,872.9 1636.3,873.4 1639.3,907.3 1642.3,906.1 1645.6,941.9 1648.6,941.9 1651.6,940.7 1654.6,939.4 1657.6,940.7 1660.6,941.7 1663.7,941.9 1666.7,941.7 1669.9,937.4 1672.9,939.9 1676.2,934.9 1679.2,903.5 1682.2,906.1 1685.2,901.8 1688.5,935.4 1691.5,939.4 1694.5,935.4 1697.5,938.2 1700.5,939.4 1703.5,900.3 1706.5,908.6 1709.8,872.2 1712.8,903.5 1715.8,938.2 1718.8,937.4 1721.8,939.9 1724.9,942.9 1727.9,943.7 1731.1,937.4 1734.1,898.5 1737.1,901.8 1740.2,909.3 1743.4,916.3 1746.4,916.1 1749.4,904.8 1752.4,903.5 1755.7,906.8 1758.7,904.3 1761.7,908.6 1764.7,881.0 1767.7,886.0 1770.7,883.5 1774.0,880.5 1777.0,880.2 1780.0,914.8 1783.0,906.1 1786.0,884.7 1789.1,884.2 1792.3,887.7 1795.3,878.5 1798.6,902.8" fill="none" stroke="#eab839" stroke-width="1.0" stroke-linejoin="round"/></svg>
<span class="t " style="left:1558.79px;top:844.73px;font-size:11px;line-height:15px;color:#d8d9da;font-weight:bold;transform:scaleX(0.9300);">25 K</span>
<span class="t " style="left:1558.79px;top:880.53px;font-size:11px;line-height:15px;color:#d8d9da;font-weight:bold;transform:scaleX(0.9300);">20 K</span>
<span class="t " style="left:1558.79px;top:916.33px;font-size:11px;line-height:15px;color:#d8d9da;font-weight:bold;transform:scaleX(0.9300);">15 K</span>
<span class="t " style="left:1558.79px;top:952.13px;font-size:11px;line-height:15px;color:#d8d9da;font-weight:bold;transform:scaleX(0.9300);">10 K</span>
<span class="t " style="left:1564.48px;top:987.93px;font-size:11px;line-height:15px;color:#d8d9da;font-weight:bold;transform:scaleX(0.9300);">5 K</span>
<span class="t " style="left:1574.47px;top:1023.73px;font-size:11px;line-height:15px;color:#d8d9da;font-weight:bold;transform:scaleX(0.9700);">0</span>
<span class="t " style="left:1638.10px;top:1036.63px;font-size:11px;line-height:15px;color:#d8d9da;font-weight:bold;transform:scaleX(0.9600);">12:00</span>
<span class="t " style="left:1712.10px;top:1036.63px;font-size:11px;line-height:15px;color:#d8d9da;font-weight:bold;transform:scaleX(0.9600);">14:00</span>
<span class="t " style="left:1785.10px;top:1036.63px;font-size:11px;line-height:15px;color:#d8d9da;font-weight:bold;transform:scaleX(0.9600);">16:00</span>
<i class="lm" style="left:1567.6px;top:1067.4px;background:#7eb26d"></i>
<span class="t " style="left:1584.10px;top:1061.53px;font-size:11px;line-height:15px;color:#d8d9da;font-weight:bold;transform:scaleX(0.8978);">SSD Read</span>
<i class="lm" style="left:1641.0px;top:1067.4px;background:#eab839"></i>
<span class="t " style="left:1657.50px;top:1061.53px;font-size:11px;line-height:15px;color:#d8d9da;font-weight:bold;transform:scaleX(0.9502);">MD Write</span>
</div></body></html>
